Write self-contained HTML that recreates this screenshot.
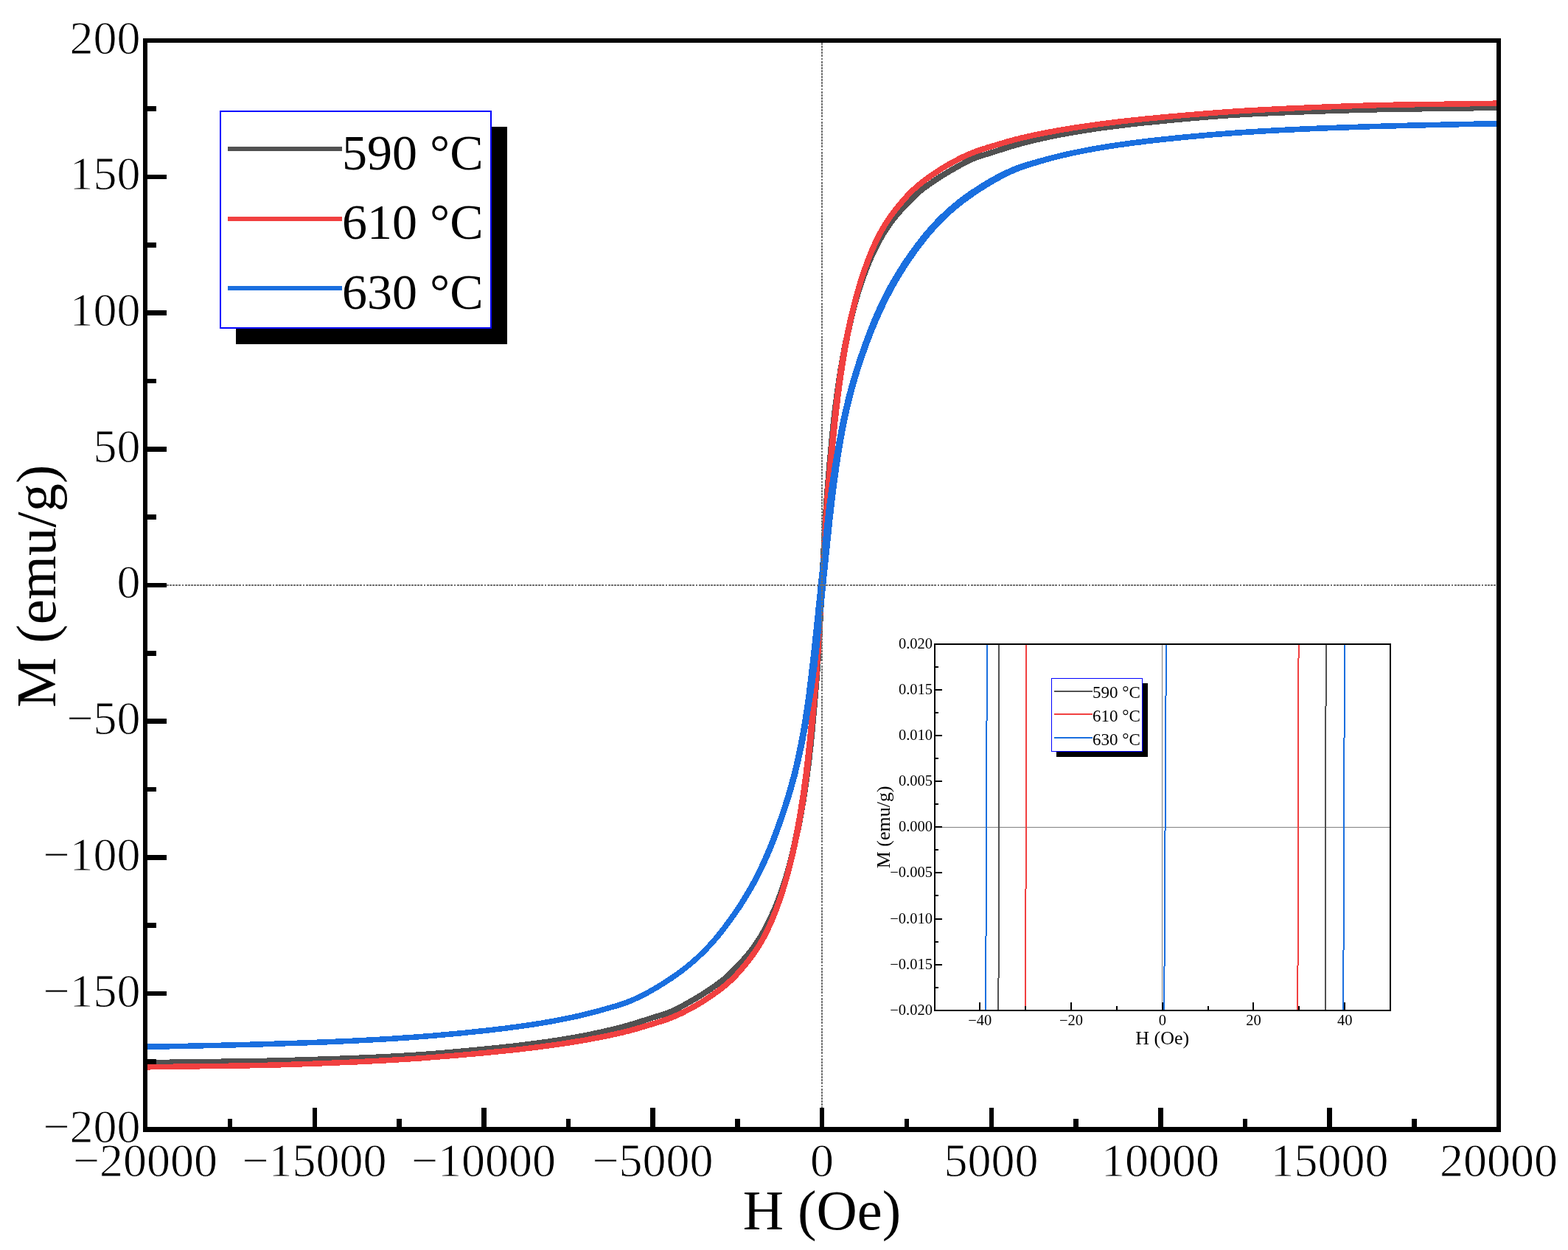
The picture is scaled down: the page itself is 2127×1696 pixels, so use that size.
<!DOCTYPE html>
<html lang="en"><head><meta charset="utf-8"><title>M-H hysteresis loops</title>
<style>html,body{margin:0;padding:0;background:#fff}svg{display:block}</style></head>
<body>
<svg xmlns="http://www.w3.org/2000/svg" width="2127" height="1696" viewBox="0 0 2127 1696" font-family="'Liberation Serif', 'Times New Roman', serif" fill="#000">
<rect width="2127" height="1696" fill="#fff"/>
<g fill="none" stroke-linejoin="round" stroke-linecap="butt" shape-rendering="crispEdges">
<path d="M196.3,1441.8 201.5,1441.7 206.8,1441.6 212.0,1441.5 217.2,1441.4 222.4,1441.4 227.6,1441.3 232.8,1441.2 237.9,1441.1 243.0,1441.0 248.2,1441.0 253.2,1440.9 258.3,1440.8 263.4,1440.7 268.4,1440.7 273.4,1440.6 278.4,1440.6 283.4,1440.5 288.4,1440.4 293.3,1440.4 298.3,1440.3 303.2,1440.2 308.1,1440.2 313.0,1440.1 317.8,1440.0 322.7,1440.0 327.5,1439.9 332.3,1439.8 337.1,1439.7 341.9,1439.6 346.7,1439.6 351.4,1439.5 356.1,1439.4 360.8,1439.3 365.5,1439.1 370.2,1439.0 374.9,1438.9 379.5,1438.8 384.1,1438.7 388.7,1438.5 393.3,1438.4 397.9,1438.3 402.5,1438.2 407.0,1438.0 411.5,1437.9 416.0,1437.8 420.5,1437.6 425.0,1437.5 429.4,1437.3 433.9,1437.2 438.3,1437.0 442.7,1436.9 447.1,1436.7 451.5,1436.6 455.8,1436.4 460.2,1436.3 464.5,1436.1 468.8,1436.0 473.1,1435.8 477.3,1435.6 481.6,1435.5 485.8,1435.3 490.1,1435.1 494.3,1434.9 498.5,1434.8 502.6,1434.6 506.8,1434.4 510.9,1434.2 515.0,1434.0 519.1,1433.8 523.2,1433.6 527.3,1433.4 531.4,1433.2 535.4,1433.0 539.4,1432.8 543.4,1432.6 547.4,1432.3 551.4,1432.1 555.4,1431.8 559.3,1431.6 563.2,1431.3 567.1,1431.1 571.0,1430.8 574.9,1430.5 578.8,1430.2 582.6,1429.9 586.4,1429.6 590.3,1429.3 594.1,1429.0 597.8,1428.7 601.6,1428.4 605.3,1428.1 609.1,1427.7 612.8,1427.4 616.5,1427.1 620.2,1426.8 623.9,1426.4 627.5,1426.1 631.1,1425.7 634.8,1425.4 638.4,1425.1 642.0,1424.7 645.5,1424.4 649.1,1424.1 652.6,1423.7 656.2,1423.4 659.7,1423.0 663.2,1422.7 666.6,1422.3 670.1,1422.0 673.6,1421.7 677.0,1421.3 680.4,1421.0 683.8,1420.6 687.2,1420.2 690.6,1419.9 693.9,1419.5 697.3,1419.1 700.6,1418.8 703.9,1418.4 707.2,1418.0 710.5,1417.6 713.7,1417.2 717.0,1416.8 720.2,1416.4 723.4,1416.0 726.6,1415.6 729.8,1415.1 733.0,1414.7 736.1,1414.3 739.3,1413.8 742.4,1413.4 745.5,1413.0 748.6,1412.5 751.7,1412.0 754.7,1411.6 757.8,1411.1 760.8,1410.6 763.8,1410.1 766.8,1409.6 769.8,1409.2 772.8,1408.7 775.7,1408.1 778.7,1407.6 781.6,1407.1 784.5,1406.6 787.4,1406.1 790.3,1405.5 793.2,1405.0 796.0,1404.4 798.9,1403.9 801.7,1403.3 804.5,1402.7 807.3,1402.2 810.1,1401.6 812.9,1401.0 815.6,1400.4 818.3,1399.8 821.1,1399.2 823.8,1398.5 826.5,1397.9 829.1,1397.3 831.8,1396.6 834.5,1396.0 837.1,1395.3 839.7,1394.7 842.3,1394.0 844.9,1393.3 847.5,1392.6 850.0,1391.9 852.6,1391.2 855.1,1390.5 857.6,1389.8 860.1,1389.0 862.6,1388.2 865.1,1387.5 867.6,1386.7 870.0,1385.9 872.5,1385.1 874.9,1384.3 877.3,1383.6 879.7,1382.8 882.1,1382.0 884.4,1381.2 886.8,1380.5 889.1,1379.8 891.4,1379.1 893.7,1378.4 896.0,1377.7 898.3,1377.0 900.6,1376.2 902.8,1375.5 905.1,1374.7 907.3,1373.9 909.5,1373.0 911.7,1372.1 913.9,1371.1 916.0,1370.1 918.2,1369.0 920.3,1368.0 922.5,1366.8 924.6,1365.7 926.7,1364.6 928.8,1363.4 930.9,1362.2 932.9,1361.1 935.0,1359.9 937.0,1358.8 939.0,1357.6 941.0,1356.5 943.0,1355.3 945.0,1354.1 947.0,1353.0 948.9,1351.8 950.9,1350.6 952.8,1349.4 954.7,1348.2 956.6,1346.9 958.5,1345.7 960.4,1344.5 962.2,1343.2 964.1,1342.0 965.9,1340.7 967.7,1339.4 969.5,1338.2 971.3,1336.9 973.0,1335.7 974.6,1334.6 976.1,1333.4 977.5,1332.4 978.9,1331.3 980.3,1330.2 981.6,1329.2 982.9,1328.1 984.2,1327.0 985.6,1325.8 986.9,1324.6 988.3,1323.3 989.7,1322.0 991.2,1320.6 992.7,1319.1 994.3,1317.5 995.9,1315.9 997.5,1314.2 999.1,1312.5 1000.7,1310.8 1002.4,1309.1 1004.0,1307.4 1005.6,1305.6 1007.3,1303.8 1008.9,1302.0 1010.5,1300.1 1012.1,1298.2 1013.8,1296.3 1015.3,1294.4 1016.9,1292.4 1018.5,1290.4 1020.1,1288.4 1021.6,1286.3 1023.1,1284.2 1024.6,1282.1 1026.1,1280.0 1027.6,1277.8 1029.0,1275.6 1030.4,1273.3 1031.8,1271.1 1033.2,1268.8 1034.5,1266.4 1035.9,1264.1 1037.2,1261.7 1038.5,1259.3 1039.8,1256.8 1041.1,1254.3 1042.4,1251.8 1043.6,1249.2 1044.9,1246.7 1046.1,1244.1 1047.3,1241.4 1048.5,1238.7 1049.7,1236.0 1050.9,1233.3 1052.1,1230.5 1053.2,1227.8 1054.3,1224.9 1055.5,1222.1 1056.6,1219.2 1057.7,1216.3 1058.7,1213.4 1059.8,1210.4 1060.9,1207.4 1061.9,1204.4 1062.9,1201.4 1063.9,1198.3 1064.9,1195.2 1065.9,1192.1 1066.9,1189.0 1067.8,1185.8 1068.7,1182.7 1069.7,1179.4 1070.6,1176.2 1071.5,1173.0 1072.3,1169.7 1073.2,1166.4 1074.1,1163.1 1074.9,1159.7 1075.7,1156.4 1076.6,1153.0 1077.4,1149.6 1078.2,1146.2 1079.0,1142.7 1079.7,1139.3 1080.5,1135.8 1081.3,1132.3 1082.0,1128.7 1082.8,1125.2 1083.5,1121.6 1084.2,1118.0 1084.9,1114.4 1085.6,1110.7 1086.3,1107.1 1087.0,1103.4 1087.6,1099.7 1088.3,1095.9 1088.9,1092.1 1089.6,1088.4 1090.2,1084.5 1090.8,1080.7 1091.4,1076.8 1092.0,1072.9 1092.6,1069.0 1093.2,1065.1 1093.7,1061.1 1094.3,1057.1 1094.8,1053.1 1095.4,1049.0 1095.9,1044.9 1096.4,1040.8 1097.0,1036.7 1097.5,1032.5 1098.0,1028.4 1098.4,1024.2 1098.9,1020.0 1099.4,1015.7 1099.9,1011.5 1100.3,1007.2 1100.7,1002.9 1101.2,998.6 1101.6,994.3 1102.0,990.0 1102.4,985.6 1102.8,981.3 1103.2,977.0 1103.6,972.6 1104.0,968.3 1104.4,964.0 1104.8,959.7 1105.1,955.4 1105.5,951.1 1105.9,946.8 1106.2,942.6 1106.6,938.3 1106.9,934.1 1107.3,929.9 1107.6,925.7 1108.0,921.6 1108.3,917.5 1108.6,913.4 1108.9,909.3 1109.2,905.3 1109.5,901.3 1109.7,897.3 1110.0,893.4 1110.3,889.4 1110.5,885.6 1110.7,881.7 1111.0,877.9 1111.2,874.2 1111.4,870.5 1111.6,866.8 1111.8,863.1 1112.0,859.6 1112.1,856.1 1112.3,852.6 1112.5,849.2 1112.6,845.9 1112.8,842.6 1112.9,839.4 1113.1,836.4 1113.2,833.4 1113.4,830.5 1113.5,827.7 1113.7,825.0 1113.9,822.4 1114.1,820.0 1114.3,817.6 1114.5,815.4 1114.6,813.3 1114.8,811.3 1115.0,809.4 1115.2,807.7 1115.3,806.1 1115.5,804.5 1115.6,803.1 1115.8,801.9 1115.9,800.7 1116.0,799.6 1116.1,798.7 1116.2,797.8 1116.3,797.1 1116.3,796.4 1116.4,795.9 1116.4,795.4 1116.5,795.0 1116.5,794.7 1116.5,794.5 1116.5,794.3 1116.5,794.2 1116.5,794.2 1116.5,794.2 1113.5,793.8 1113.5,793.8 1113.5,793.7 1113.5,793.5 1113.5,793.3 1113.5,793.0 1113.6,792.6 1113.6,792.1 1113.7,791.6 1113.7,790.9 1113.8,790.2 1113.9,789.3 1114.0,788.4 1114.1,787.3 1114.2,786.1 1114.4,784.9 1114.5,783.5 1114.7,781.9 1114.8,780.3 1115.0,778.6 1115.2,776.7 1115.4,774.7 1115.5,772.6 1115.7,770.4 1115.9,768.0 1116.1,765.6 1116.3,763.0 1116.5,760.3 1116.6,757.5 1116.8,754.6 1116.9,751.6 1117.1,748.6 1117.2,745.4 1117.4,742.1 1117.5,738.8 1117.7,735.4 1117.9,731.9 1118.0,728.4 1118.2,724.9 1118.4,721.2 1118.6,717.5 1118.8,713.8 1119.0,710.1 1119.3,706.3 1119.5,702.4 1119.7,698.6 1120.0,694.6 1120.3,690.7 1120.5,686.7 1120.8,682.7 1121.1,678.7 1121.4,674.6 1121.7,670.5 1122.0,666.4 1122.4,662.3 1122.7,658.1 1123.1,653.9 1123.4,649.7 1123.8,645.4 1124.1,641.2 1124.5,636.9 1124.9,632.6 1125.2,628.3 1125.6,624.0 1126.0,619.7 1126.4,615.4 1126.8,611.0 1127.2,606.7 1127.6,602.4 1128.0,598.0 1128.4,593.7 1128.8,589.4 1129.3,585.1 1129.7,580.8 1130.1,576.5 1130.6,572.3 1131.1,568.0 1131.6,563.8 1132.0,559.6 1132.5,555.5 1133.0,551.3 1133.6,547.2 1134.1,543.1 1134.6,539.0 1135.2,534.9 1135.7,530.9 1136.3,526.9 1136.8,522.9 1137.4,519.0 1138.0,515.1 1138.6,511.2 1139.2,507.3 1139.8,503.5 1140.4,499.6 1141.1,495.9 1141.7,492.1 1142.4,488.3 1143.0,484.6 1143.7,480.9 1144.4,477.3 1145.1,473.6 1145.8,470.0 1146.5,466.4 1147.2,462.8 1148.0,459.3 1148.7,455.7 1149.5,452.2 1150.3,448.7 1151.0,445.3 1151.8,441.8 1152.6,438.4 1153.4,435.0 1154.3,431.6 1155.1,428.3 1155.9,424.9 1156.8,421.6 1157.7,418.3 1158.5,415.0 1159.4,411.8 1160.3,408.6 1161.3,405.3 1162.2,402.2 1163.1,399.0 1164.1,395.9 1165.1,392.8 1166.1,389.7 1167.1,386.6 1168.1,383.6 1169.1,380.6 1170.2,377.6 1171.3,374.6 1172.3,371.7 1173.4,368.8 1174.5,365.9 1175.7,363.1 1176.8,360.2 1177.9,357.5 1179.1,354.7 1180.3,352.0 1181.5,349.3 1182.7,346.6 1183.9,343.9 1185.1,341.3 1186.4,338.8 1187.6,336.2 1188.9,333.7 1190.2,331.2 1191.5,328.7 1192.8,326.3 1194.1,323.9 1195.5,321.6 1196.8,319.2 1198.2,316.9 1199.6,314.7 1201.0,312.4 1202.4,310.2 1203.9,308.0 1205.4,305.9 1206.9,303.8 1208.4,301.7 1209.9,299.6 1211.5,297.6 1213.1,295.6 1214.7,293.6 1216.2,291.7 1217.9,289.8 1219.5,287.9 1221.1,286.0 1222.7,284.2 1224.4,282.4 1226.0,280.6 1227.6,278.9 1229.3,277.2 1230.9,275.5 1232.5,273.8 1234.1,272.1 1235.7,270.5 1237.3,268.9 1238.8,267.4 1240.3,266.0 1241.7,264.7 1243.1,263.4 1244.4,262.2 1245.8,261.0 1247.1,259.9 1248.4,258.8 1249.7,257.8 1251.1,256.7 1252.5,255.6 1253.9,254.6 1255.4,253.4 1257.0,252.3 1258.7,251.1 1260.5,249.8 1262.3,248.6 1264.1,247.3 1265.9,246.0 1267.8,244.8 1269.6,243.5 1271.5,242.3 1273.4,241.1 1275.3,239.8 1277.2,238.6 1279.1,237.4 1281.1,236.2 1283.0,235.0 1285.0,233.9 1287.0,232.7 1289.0,231.5 1291.0,230.4 1293.0,229.2 1295.0,228.1 1297.1,226.9 1299.1,225.8 1301.2,224.6 1303.3,223.4 1305.4,222.3 1307.5,221.2 1309.7,220.0 1311.8,219.0 1314.0,217.9 1316.1,216.9 1318.3,215.9 1320.5,215.0 1322.7,214.1 1324.9,213.3 1327.2,212.5 1329.4,211.8 1331.7,211.0 1334.0,210.3 1336.3,209.6 1338.6,208.9 1340.9,208.2 1343.2,207.5 1345.6,206.8 1347.9,206.0 1350.3,205.2 1352.7,204.4 1355.1,203.7 1357.5,202.9 1360.0,202.1 1362.4,201.3 1364.9,200.5 1367.4,199.8 1369.9,199.0 1372.4,198.2 1374.9,197.5 1377.4,196.8 1380.0,196.1 1382.5,195.4 1385.1,194.7 1387.7,194.0 1390.3,193.3 1392.9,192.7 1395.5,192.0 1398.2,191.4 1400.9,190.7 1403.5,190.1 1406.2,189.5 1408.9,188.8 1411.7,188.2 1414.4,187.6 1417.1,187.0 1419.9,186.4 1422.7,185.8 1425.5,185.3 1428.3,184.7 1431.1,184.1 1434.0,183.6 1436.8,183.0 1439.7,182.5 1442.6,181.9 1445.5,181.4 1448.4,180.9 1451.3,180.4 1454.3,179.9 1457.2,179.3 1460.2,178.8 1463.2,178.4 1466.2,177.9 1469.2,177.4 1472.2,176.9 1475.3,176.4 1478.3,176.0 1481.4,175.5 1484.5,175.0 1487.6,174.6 1490.7,174.2 1493.9,173.7 1497.0,173.3 1500.2,172.9 1503.4,172.4 1506.6,172.0 1509.8,171.6 1513.0,171.2 1516.3,170.8 1519.5,170.4 1522.8,170.0 1526.1,169.6 1529.4,169.2 1532.7,168.9 1536.1,168.5 1539.4,168.1 1542.8,167.8 1546.2,167.4 1549.6,167.0 1553.0,166.7 1556.4,166.3 1559.9,166.0 1563.4,165.7 1566.8,165.3 1570.3,165.0 1573.8,164.6 1577.4,164.3 1580.9,163.9 1584.5,163.6 1588.0,163.3 1591.6,162.9 1595.2,162.6 1598.9,162.3 1602.5,161.9 1606.1,161.6 1609.8,161.2 1613.5,160.9 1617.2,160.6 1620.9,160.3 1624.7,159.9 1628.4,159.6 1632.2,159.3 1635.9,159.0 1639.7,158.7 1643.6,158.4 1647.4,158.1 1651.2,157.8 1655.1,157.5 1659.0,157.2 1662.9,156.9 1666.8,156.7 1670.7,156.4 1674.6,156.2 1678.6,155.9 1682.6,155.7 1686.6,155.4 1690.6,155.2 1694.6,155.0 1698.6,154.8 1702.7,154.6 1706.8,154.4 1710.9,154.2 1715.0,154.0 1719.1,153.8 1723.2,153.6 1727.4,153.4 1731.5,153.2 1735.7,153.1 1739.9,152.9 1744.2,152.7 1748.4,152.5 1752.7,152.4 1756.9,152.2 1761.2,152.0 1765.5,151.9 1769.8,151.7 1774.2,151.6 1778.5,151.4 1782.9,151.3 1787.3,151.1 1791.7,151.0 1796.1,150.8 1800.6,150.7 1805.0,150.5 1809.5,150.4 1814.0,150.2 1818.5,150.1 1823.0,150.0 1827.5,149.8 1832.1,149.7 1836.7,149.6 1841.3,149.5 1845.9,149.3 1850.5,149.2 1855.1,149.1 1859.8,149.0 1864.5,148.9 1869.2,148.7 1873.9,148.6 1878.6,148.5 1883.3,148.4 1888.1,148.4 1892.9,148.3 1897.7,148.2 1902.5,148.1 1907.3,148.0 1912.2,148.0 1917.0,147.9 1921.9,147.8 1926.8,147.8 1931.7,147.7 1936.7,147.6 1941.6,147.6 1946.6,147.5 1951.6,147.4 1956.6,147.4 1961.6,147.3 1966.6,147.3 1971.7,147.2 1976.8,147.1 1981.8,147.0 1987.0,147.0 1992.1,146.9 1997.2,146.8 2002.4,146.7 2007.6,146.6 2012.8,146.6 2018.0,146.5 2023.2,146.4 2028.5,146.3 2033.7,146.2 M687.2,1420.2 690.6,1419.8 693.9,1419.5 697.2,1419.1 700.6,1418.7 703.9,1418.3 707.2,1417.9 710.4,1417.5 713.7,1417.1 717.0,1416.7 720.2,1416.3 723.4,1415.9 726.6,1415.5 729.8,1415.1 733.0,1414.6 736.1,1414.2 739.2,1413.8 742.4,1413.3 745.5,1412.9 748.6,1412.4 751.6,1411.9 754.7,1411.5 757.8,1411.0 760.8,1410.5 763.8,1410.0 766.8,1409.5 769.8,1409.0 772.8,1408.5 775.7,1408.0 778.7,1407.5 781.6,1407.0 784.5,1406.4 787.4,1405.9 790.3,1405.4 793.2,1404.8 796.0,1404.3 798.8,1403.7 801.7,1403.1 804.5,1402.5 807.3,1402.0 810.0,1401.4 812.8,1400.8 815.6,1400.2 818.3,1399.6 821.0,1398.9 823.7,1398.3 826.4,1397.7 829.1,1397.1 831.7,1396.4 834.4,1395.8 837.0,1395.1 839.6,1394.4 842.2,1393.7 844.8,1393.1 847.4,1392.4 850.0,1391.7 852.5,1391.0 855.0,1390.2 857.6,1389.5 860.1,1388.7 862.6,1388.0 865.0,1387.2 867.5,1386.4 869.9,1385.6 872.4,1384.8 874.8,1384.1 877.2,1383.3 879.6,1382.5 882.0,1381.7 884.3,1381.0 886.7,1380.2 889.0,1379.5 891.3,1378.8 893.6,1378.1 895.9,1377.4 898.2,1376.7 900.5,1375.9 902.7,1375.2 904.9,1374.4 907.2,1373.6 909.4,1372.7 911.6,1371.8 913.7,1370.8 915.9,1369.8 918.1,1368.7 920.2,1367.7 922.3,1366.6 924.4,1365.4 926.5,1364.3 928.6,1363.1 930.7,1362.0 932.8,1360.8 934.8,1359.6 936.8,1358.5 938.8,1357.3 940.9,1356.2 942.8,1355.0 944.8,1353.9 946.8,1352.7 948.7,1351.5 950.7,1350.3 952.6,1349.1 954.5,1347.9 956.4,1346.6 958.3,1345.4 960.2,1344.2 962.0,1342.9 963.9,1341.7 965.7,1340.4 967.5,1339.1 969.3,1337.9 971.1,1336.6 972.8,1335.4 974.3,1334.3 975.8,1333.2 977.3,1332.1 978.7,1331.0 980.0,1330.0 981.4,1328.9 982.7,1327.8 984.0,1326.7 985.3,1325.5 986.7,1324.3 988.0,1323.1 989.4,1321.7 990.9,1320.3 992.4,1318.8 994.0,1317.2 995.6,1315.6 997.2,1314.0 998.8,1312.3 1000.5,1310.6 1002.1,1308.9 1003.7,1307.1 1005.4,1305.3 1007.0,1303.5 1008.6,1301.7 1010.2,1299.9 1011.9,1298.0 1013.5,1296.1 1015.1,1294.1 1016.6,1292.2 1018.2,1290.2 1019.8,1288.1 1021.3,1286.1 1022.8,1284.0 1024.3,1281.9 1025.8,1279.8 1027.2,1277.6 1028.7,1275.4 1030.1,1273.1 1031.5,1270.9 1032.8,1268.6 1034.2,1266.2 1035.5,1263.9 1036.8,1261.5 1038.1,1259.1 1039.4,1256.6 1040.7,1254.1 1042.0,1251.6 1043.2,1249.1 1044.5,1246.5 1045.7,1243.9 1046.9,1241.2 1048.1,1238.6 1049.3,1235.9 1050.5,1233.1 1051.7,1230.4 1052.8,1227.6 1053.9,1224.8 1055.0,1221.9 1056.2,1219.1 1057.2,1216.2 1058.3,1213.2 1059.4,1210.3 1060.4,1207.3 1061.5,1204.3 1062.5,1201.2 1063.5,1198.2 1064.5,1195.1 1065.4,1192.0 1066.4,1188.9 1067.3,1185.7 1068.2,1182.5 1069.1,1179.3 1070.0,1176.1 1070.9,1172.8 1071.8,1169.5 1072.6,1166.2 1073.4,1162.9 1074.2,1159.6 1075.0,1156.2 1075.8,1152.8 1076.6,1149.4 1077.3,1146.0 1078.1,1142.5 1078.8,1139.1 1079.5,1135.6 1080.2,1132.1 1080.9,1128.5 1081.6,1125.0 1082.3,1121.4 1083.0,1117.8 1083.7,1114.2 1084.3,1110.5 1085.0,1106.8 1085.6,1103.1 1086.3,1099.4 1086.9,1095.7 1087.5,1091.9 1088.2,1088.1 1088.8,1084.3 1089.4,1080.5 1090.0,1076.6 1090.6,1072.7 1091.2,1068.8 1091.8,1064.9 1092.3,1060.9 1092.9,1056.9 1093.5,1052.9 1094.0,1048.8 1094.5,1044.7 1095.1,1040.6 1095.6,1036.5 1096.1,1032.4 1096.6,1028.2 1097.1,1024.0 1097.5,1019.8 1098.0,1015.6 1098.5,1011.3 1098.9,1007.0 1099.4,1002.8 1099.8,998.5 1100.2,994.2 1100.6,989.8 1101.0,985.5 1101.4,981.2 1101.8,976.9 1102.1,972.5 1102.5,968.2 1102.8,963.9 1103.1,959.6 1103.4,955.2 1103.6,951.0 1103.9,946.7 1104.1,942.4 1104.4,938.2 1104.6,933.9 1104.9,929.7 1105.1,925.6 1105.3,921.4 1105.6,917.3 1105.8,913.2 1106.0,909.1 1106.3,905.1 1106.5,901.1 1106.7,897.1 1106.9,893.2 1107.2,889.3 1107.4,885.4 1107.6,881.6 1107.9,877.8 1108.1,874.0 1108.3,870.3 1108.5,866.6 1108.7,863.0 1108.9,859.4 1109.0,855.9 1109.2,852.4 1109.4,849.0 1109.5,845.7 1109.7,842.5 1109.8,839.3 1110.0,836.2 1110.1,833.2 1110.3,830.3 1110.4,827.5 1110.6,824.8 1110.8,822.2 1111.0,819.7 1111.2,817.4 1111.4,815.1 1111.6,813.0 1111.7,811.0 1111.9,809.1 1112.1,807.4 1112.3,805.7 1112.4,804.2 1112.6,802.8 1112.7,801.5 1112.8,800.4 1112.9,799.3 1113.0,798.4 1113.1,797.5 1113.2,796.8 1113.2,796.1 1113.3,795.6 1113.3,795.1 1113.4,794.7 1113.4,794.4 1113.4,794.2 1113.4,794.0 1113.5,793.9 1113.5,793.9 1113.5,793.8 1116.5,794.1 1116.5,794.1 1116.6,794.0 1116.6,793.8 1116.6,793.6 1116.6,793.3 1116.7,792.9 1116.7,792.4 1116.8,791.9 1116.8,791.2 1116.9,790.5 1117.0,789.6 1117.1,788.7 1117.2,787.6 1117.3,786.5 1117.4,785.2 1117.6,783.8 1117.7,782.3 1117.9,780.6 1118.1,778.9 1118.3,777.0 1118.4,775.0 1118.6,772.9 1118.8,770.6 1119.0,768.3 1119.2,765.8 1119.4,763.2 1119.6,760.5 1119.7,757.7 1119.9,754.8 1120.0,751.8 1120.2,748.7 1120.3,745.5 1120.5,742.3 1120.6,739.0 1120.8,735.6 1121.0,732.1 1121.1,728.6 1121.3,725.0 1121.5,721.4 1121.7,717.7 1121.9,714.0 1122.1,710.2 1122.4,706.4 1122.6,702.6 1122.8,698.7 1123.1,694.8 1123.3,690.9 1123.5,686.9 1123.7,682.9 1124.0,678.9 1124.2,674.8 1124.4,670.7 1124.7,666.6 1124.9,662.4 1125.1,658.3 1125.4,654.1 1125.6,649.8 1125.9,645.6 1126.1,641.3 1126.4,637.0 1126.6,632.8 1126.9,628.4 1127.2,624.1 1127.5,619.8 1127.9,615.5 1128.2,611.1 1128.6,606.8 1129.0,602.5 1129.4,598.2 1129.8,593.8 1130.2,589.5 1130.6,585.2 1131.1,581.0 1131.5,576.7 1132.0,572.4 1132.5,568.2 1132.9,564.0 1133.4,559.8 1133.9,555.6 1134.4,551.5 1134.9,547.4 1135.5,543.3 1136.0,539.2 1136.5,535.1 1137.1,531.1 1137.7,527.1 1138.2,523.1 1138.8,519.2 1139.4,515.3 1140.0,511.4 1140.6,507.5 1141.2,503.7 1141.8,499.9 1142.5,496.1 1143.1,492.3 1143.7,488.6 1144.4,484.9 1145.0,481.2 1145.7,477.5 1146.3,473.8 1147.0,470.2 1147.7,466.6 1148.4,463.0 1149.1,459.5 1149.8,455.9 1150.5,452.4 1151.2,448.9 1151.9,445.5 1152.7,442.0 1153.4,438.6 1154.2,435.2 1155.0,431.8 1155.8,428.4 1156.6,425.1 1157.4,421.8 1158.2,418.5 1159.1,415.2 1160.0,411.9 1160.9,408.7 1161.8,405.5 1162.7,402.3 1163.6,399.1 1164.6,396.0 1165.5,392.9 1166.5,389.8 1167.5,386.8 1168.5,383.7 1169.6,380.7 1170.6,377.7 1171.7,374.8 1172.8,371.8 1173.8,368.9 1175.0,366.1 1176.1,363.2 1177.2,360.4 1178.3,357.6 1179.5,354.9 1180.7,352.1 1181.9,349.4 1183.1,346.8 1184.3,344.1 1185.5,341.5 1186.8,338.9 1188.0,336.4 1189.3,333.9 1190.6,331.4 1191.9,328.9 1193.2,326.5 1194.5,324.1 1195.8,321.8 1197.2,319.4 1198.5,317.1 1199.9,314.9 1201.3,312.6 1202.8,310.4 1204.2,308.2 1205.7,306.1 1207.2,304.0 1208.7,301.9 1210.2,299.9 1211.8,297.8 1213.4,295.8 1214.9,293.9 1216.5,291.9 1218.1,290.0 1219.8,288.1 1221.4,286.3 1223.0,284.5 1224.6,282.7 1226.3,280.9 1227.9,279.1 1229.5,277.4 1231.2,275.7 1232.8,274.0 1234.4,272.4 1236.0,270.8 1237.6,269.2 1239.1,267.7 1240.6,266.3 1242.0,264.9 1243.3,263.7 1244.7,262.5 1246.0,261.3 1247.3,260.2 1248.6,259.1 1250.0,258.0 1251.3,257.0 1252.7,255.9 1254.2,254.8 1255.7,253.7 1257.2,252.6 1258.9,251.4 1260.7,250.1 1262.5,248.9 1264.3,247.6 1266.1,246.3 1268.0,245.1 1269.8,243.8 1271.7,242.6 1273.6,241.4 1275.5,240.1 1277.4,238.9 1279.3,237.7 1281.3,236.5 1283.2,235.3 1285.2,234.1 1287.2,233.0 1289.1,231.8 1291.2,230.7 1293.2,229.5 1295.2,228.4 1297.2,227.2 1299.3,226.0 1301.4,224.9 1303.5,223.7 1305.6,222.6 1307.7,221.4 1309.8,220.3 1311.9,219.3 1314.1,218.2 1316.3,217.2 1318.4,216.2 1320.6,215.3 1322.8,214.4 1325.1,213.6 1327.3,212.8 1329.5,212.1 1331.8,211.3 1334.1,210.6 1336.4,209.9 1338.7,209.2 1341.0,208.5 1343.3,207.8 1345.7,207.0 1348.0,206.3 1350.4,205.5 1352.8,204.7 1355.2,203.9 1357.6,203.2 1360.1,202.4 1362.5,201.6 1365.0,200.8 1367.4,200.0 1369.9,199.3 1372.4,198.5 1375.0,197.8 1377.5,197.0 1380.0,196.3 1382.6,195.6 1385.2,194.9 1387.8,194.3 1390.4,193.6 1393.0,192.9 1395.6,192.2 1398.3,191.6 1400.9,190.9 1403.6,190.3 1406.3,189.7 1409.0,189.1 1411.7,188.4 1414.4,187.8 1417.2,187.2 1420.0,186.6 1422.7,186.0 1425.5,185.5 1428.3,184.9 1431.2,184.3 1434.0,183.7 1436.8,183.2 1439.7,182.6 1442.6,182.1 1445.5,181.6 1448.4,181.0 1451.3,180.5 1454.3,180.0 1457.2,179.5 1460.2,179.0 1463.2,178.5 1466.2,178.0 1469.2,177.5 1472.2,177.0 1475.3,176.5 1478.4,176.1 1481.4,175.6 1484.5,175.1 1487.6,174.7 1490.8,174.2 1493.9,173.8 1497.0,173.4 1500.2,172.9 1503.4,172.5 1506.6,172.1 1509.8,171.7 1513.0,171.3 1516.3,170.9 1519.6,170.5 1522.8,170.1 1526.1,169.7 1529.4,169.3 1532.8,168.9 1536.1,168.5 1539.4,168.2 1542.8,167.8" stroke="#515151" stroke-width="7.5"/>
<path d="M196.3,1447.9 201.5,1447.8 206.8,1447.7 212.0,1447.6 217.2,1447.6 222.4,1447.5 227.6,1447.4 232.8,1447.3 237.9,1447.2 243.0,1447.1 248.2,1447.1 253.2,1447.0 258.3,1446.9 263.4,1446.9 268.4,1446.8 273.4,1446.7 278.4,1446.7 283.4,1446.6 288.4,1446.6 293.3,1446.5 298.3,1446.4 303.2,1446.4 308.1,1446.3 313.0,1446.2 317.8,1446.2 322.7,1446.1 327.5,1446.0 332.3,1445.9 337.1,1445.8 341.9,1445.7 346.7,1445.6 351.4,1445.5 356.1,1445.4 360.8,1445.3 365.5,1445.2 370.2,1445.1 374.9,1444.9 379.5,1444.8 384.1,1444.6 388.7,1444.5 393.3,1444.3 397.9,1444.2 402.5,1444.0 407.0,1443.9 411.5,1443.7 416.0,1443.6 420.5,1443.4 425.0,1443.2 429.4,1443.1 433.9,1442.9 438.3,1442.7 442.7,1442.6 447.1,1442.4 451.5,1442.2 455.8,1442.0 460.2,1441.8 464.5,1441.6 468.8,1441.5 473.1,1441.3 477.3,1441.1 481.6,1440.9 485.8,1440.7 490.1,1440.5 494.3,1440.3 498.5,1440.1 502.6,1439.9 506.8,1439.6 510.9,1439.4 515.0,1439.2 519.1,1439.0 523.2,1438.8 527.3,1438.5 531.4,1438.3 535.4,1438.1 539.4,1437.9 543.4,1437.6 547.4,1437.4 551.4,1437.1 555.4,1436.9 559.3,1436.6 563.2,1436.3 567.1,1436.0 571.0,1435.8 574.9,1435.5 578.8,1435.2 582.6,1434.9 586.4,1434.6 590.3,1434.3 594.1,1434.0 597.8,1433.7 601.6,1433.4 605.3,1433.1 609.1,1432.8 612.8,1432.5 616.5,1432.2 620.2,1431.9 623.9,1431.6 627.5,1431.3 631.1,1430.9 634.8,1430.6 638.4,1430.3 642.0,1430.0 645.5,1429.7 649.1,1429.3 652.6,1429.0 656.2,1428.7 659.7,1428.3 663.2,1428.0 666.6,1427.7 670.1,1427.3 673.6,1427.0 677.0,1426.7 680.4,1426.3 683.8,1426.0 687.2,1425.6 690.6,1425.3 693.9,1424.9 697.2,1424.6 700.6,1424.2 703.9,1423.8 707.2,1423.5 710.4,1423.1 713.7,1422.7 717.0,1422.3 720.2,1421.9 723.4,1421.5 726.6,1421.1 729.8,1420.7 733.0,1420.3 736.1,1419.9 739.3,1419.5 742.4,1419.1 745.5,1418.7 748.6,1418.2 751.7,1417.8 754.7,1417.4 757.8,1416.9 760.8,1416.5 763.8,1416.0 766.8,1415.6 769.8,1415.1 772.8,1414.7 775.7,1414.2 778.7,1413.7 781.6,1413.2 784.5,1412.8 787.4,1412.3 790.3,1411.8 793.2,1411.3 796.0,1410.8 798.9,1410.3 801.7,1409.8 804.5,1409.3 807.3,1408.7 810.1,1408.2 812.8,1407.7 815.6,1407.1 818.3,1406.6 821.1,1406.0 823.8,1405.5 826.5,1404.9 829.1,1404.3 831.8,1403.8 834.4,1403.2 837.1,1402.6 839.7,1402.0 842.3,1401.4 844.9,1400.8 847.5,1400.1 850.0,1399.5 852.6,1398.9 855.1,1398.2 857.6,1397.5 860.1,1396.9 862.6,1396.2 865.1,1395.5 867.6,1394.8 870.0,1394.0 872.5,1393.3 874.9,1392.6 877.3,1391.9 879.7,1391.1 882.0,1390.4 884.4,1389.7 886.8,1389.0 889.1,1388.3 891.4,1387.6 893.7,1386.8 896.0,1386.1 898.3,1385.4 900.6,1384.6 902.8,1383.9 905.1,1383.1 907.3,1382.2 909.5,1381.4 911.7,1380.5 913.9,1379.6 916.0,1378.7 918.2,1377.8 920.3,1376.8 922.5,1375.8 924.6,1374.8 926.7,1373.7 928.8,1372.7 930.8,1371.6 932.9,1370.5 935.0,1369.5 937.0,1368.4 939.0,1367.3 941.0,1366.2 943.0,1365.1 945.0,1363.9 947.0,1362.8 948.9,1361.6 950.8,1360.4 952.8,1359.3 954.7,1358.1 956.6,1356.8 958.5,1355.6 960.3,1354.4 962.2,1353.1 964.1,1351.9 965.9,1350.6 967.7,1349.3 969.5,1348.0 971.3,1346.8 973.1,1345.5 974.8,1344.2 976.5,1343.0 978.1,1341.7 979.7,1340.4 981.3,1339.1 982.9,1337.9 984.5,1336.6 986.1,1335.2 987.6,1333.9 989.1,1332.5 990.6,1331.1 992.2,1329.7 993.7,1328.2 995.2,1326.7 996.7,1325.2 998.2,1323.6 999.7,1322.0 1001.2,1320.4 1002.8,1318.6 1004.3,1316.9 1005.8,1315.1 1007.4,1313.3 1008.9,1311.5 1010.5,1309.6 1012.0,1307.7 1013.6,1305.8 1015.1,1303.9 1016.6,1301.9 1018.2,1299.9 1019.7,1297.9 1021.2,1295.8 1022.7,1293.7 1024.1,1291.6 1025.6,1289.5 1027.0,1287.3 1028.4,1285.1 1029.8,1282.9 1031.2,1280.6 1032.6,1278.3 1033.9,1276.0 1035.2,1273.6 1036.5,1271.2 1037.8,1268.8 1039.0,1266.4 1040.3,1263.9 1041.5,1261.4 1042.7,1258.8 1043.9,1256.2 1045.0,1253.6 1046.2,1250.9 1047.4,1248.3 1048.5,1245.5 1049.7,1242.8 1050.8,1240.0 1051.9,1237.2 1053.0,1234.3 1054.1,1231.4 1055.2,1228.5 1056.2,1225.5 1057.3,1222.5 1058.3,1219.5 1059.4,1216.4 1060.4,1213.3 1061.4,1210.2 1062.4,1207.0 1063.4,1203.8 1064.4,1200.5 1065.4,1197.2 1066.3,1193.9 1067.3,1190.6 1068.2,1187.2 1069.1,1183.8 1070.1,1180.3 1071.0,1176.8 1071.9,1173.3 1072.8,1169.8 1073.6,1166.2 1074.5,1162.6 1075.4,1158.9 1076.2,1155.3 1077.1,1151.6 1077.9,1147.8 1078.7,1144.1 1079.5,1140.3 1080.3,1136.5 1081.1,1132.6 1081.9,1128.8 1082.7,1124.9 1083.4,1121.0 1084.2,1117.0 1084.9,1113.1 1085.6,1109.1 1086.3,1105.1 1087.0,1101.0 1087.7,1097.0 1088.4,1092.9 1089.0,1088.9 1089.7,1084.8 1090.3,1080.6 1090.9,1076.5 1091.5,1072.3 1092.1,1068.2 1092.6,1064.0 1093.2,1059.8 1093.8,1055.6 1094.3,1051.4 1094.8,1047.1 1095.3,1042.9 1095.8,1038.6 1096.3,1034.3 1096.8,1030.1 1097.3,1025.7 1097.8,1021.4 1098.3,1017.1 1098.7,1012.8 1099.2,1008.4 1099.6,1004.0 1100.1,999.7 1100.5,995.3 1100.9,990.9 1101.4,986.4 1101.8,982.0 1102.2,977.6 1102.6,973.1 1103.0,968.7 1103.5,964.2 1103.9,959.7 1104.3,955.3 1104.7,950.8 1105.1,946.3 1105.5,941.8 1105.9,937.4 1106.3,932.9 1106.7,928.4 1107.0,924.0 1107.4,919.6 1107.8,915.2 1108.1,910.8 1108.4,906.5 1108.7,902.2 1109.0,897.9 1109.3,893.7 1109.6,889.5 1109.9,885.4 1110.1,881.3 1110.4,877.3 1110.6,873.4 1110.8,869.6 1111.0,865.8 1111.3,862.1 1111.5,858.5 1111.7,855.0 1111.9,851.6 1112.1,848.2 1112.2,845.0 1112.4,841.9 1112.6,838.8 1112.7,835.9 1112.9,833.1 1113.0,830.3 1113.2,827.7 1113.3,825.2 1113.5,822.8 1113.7,820.6 1113.9,818.4 1114.1,816.3 1114.2,814.3 1114.4,812.4 1114.6,810.7 1114.8,809.0 1114.9,807.5 1115.1,806.0 1115.2,804.6 1115.4,803.3 1115.5,802.2 1115.6,801.1 1115.7,800.1 1115.8,799.2 1115.9,798.4 1116.0,797.6 1116.1,797.0 1116.1,796.4 1116.2,795.9 1116.2,795.5 1116.3,795.1 1116.3,794.8 1116.3,794.6 1116.4,794.4 1116.4,794.3 1116.4,794.2 1116.4,794.2 1116.4,794.2 1113.6,793.8 1113.6,793.8 1113.6,793.7 1113.6,793.6 1113.7,793.4 1113.7,793.2 1113.7,792.9 1113.8,792.5 1113.8,792.1 1113.9,791.6 1113.9,791.0 1114.0,790.4 1114.1,789.6 1114.2,788.8 1114.3,787.9 1114.4,786.9 1114.5,785.8 1114.6,784.7 1114.8,783.4 1114.9,782.0 1115.1,780.5 1115.2,779.0 1115.4,777.3 1115.6,775.6 1115.8,773.7 1115.9,771.7 1116.1,769.6 1116.3,767.4 1116.5,765.2 1116.7,762.8 1116.8,760.3 1117.0,757.7 1117.1,754.9 1117.3,752.1 1117.4,749.2 1117.6,746.1 1117.8,743.0 1117.9,739.8 1118.1,736.4 1118.3,733.0 1118.5,729.5 1118.7,725.9 1119.0,722.2 1119.2,718.4 1119.4,714.6 1119.6,710.7 1119.9,706.7 1120.1,702.6 1120.4,698.5 1120.7,694.3 1121.0,690.1 1121.3,685.8 1121.6,681.5 1121.9,677.2 1122.2,672.8 1122.6,668.4 1123.0,664.0 1123.3,659.6 1123.7,655.1 1124.1,650.6 1124.5,646.2 1124.9,641.7 1125.3,637.2 1125.7,632.7 1126.1,628.3 1126.5,623.8 1127.0,619.3 1127.4,614.9 1127.8,610.4 1128.2,606.0 1128.6,601.6 1129.1,597.1 1129.5,592.7 1129.9,588.3 1130.4,584.0 1130.8,579.6 1131.3,575.2 1131.7,570.9 1132.2,566.6 1132.7,562.3 1133.2,557.9 1133.7,553.7 1134.2,549.4 1134.7,545.1 1135.2,540.9 1135.7,536.6 1136.2,532.4 1136.8,528.2 1137.4,524.0 1137.9,519.8 1138.5,515.7 1139.1,511.5 1139.7,507.4 1140.3,503.2 1141.0,499.1 1141.6,495.1 1142.3,491.0 1143.0,487.0 1143.7,482.9 1144.4,478.9 1145.1,474.9 1145.8,471.0 1146.6,467.0 1147.3,463.1 1148.1,459.2 1148.9,455.4 1149.7,451.5 1150.5,447.7 1151.3,443.9 1152.1,440.2 1152.9,436.4 1153.8,432.7 1154.6,429.1 1155.5,425.4 1156.4,421.8 1157.2,418.2 1158.1,414.7 1159.0,411.2 1159.9,407.7 1160.9,404.2 1161.8,400.8 1162.7,397.4 1163.7,394.1 1164.6,390.8 1165.6,387.5 1166.6,384.2 1167.6,381.0 1168.6,377.8 1169.6,374.7 1170.6,371.6 1171.7,368.5 1172.7,365.5 1173.8,362.5 1174.8,359.5 1175.9,356.6 1177.0,353.7 1178.1,350.8 1179.2,348.0 1180.3,345.2 1181.5,342.5 1182.6,339.7 1183.8,337.1 1185.0,334.4 1186.1,331.8 1187.3,329.2 1188.5,326.6 1189.7,324.1 1191.0,321.6 1192.2,319.2 1193.5,316.8 1194.8,314.4 1196.1,312.0 1197.4,309.7 1198.8,307.4 1200.2,305.1 1201.6,302.9 1203.0,300.7 1204.4,298.5 1205.9,296.4 1207.3,294.3 1208.8,292.2 1210.3,290.1 1211.8,288.1 1213.4,286.1 1214.9,284.1 1216.4,282.2 1218.0,280.3 1219.5,278.4 1221.1,276.5 1222.6,274.7 1224.2,272.9 1225.7,271.1 1227.2,269.4 1228.8,267.6 1230.3,266.0 1231.8,264.4 1233.3,262.8 1234.8,261.3 1236.3,259.8 1237.8,258.3 1239.4,256.9 1240.9,255.5 1242.4,254.1 1243.9,252.8 1245.5,251.4 1247.1,250.1 1248.7,248.9 1250.3,247.6 1251.9,246.3 1253.5,245.0 1255.2,243.8 1256.9,242.5 1258.7,241.2 1260.5,240.0 1262.3,238.7 1264.1,237.4 1265.9,236.1 1267.8,234.9 1269.7,233.6 1271.5,232.4 1273.4,231.2 1275.3,229.9 1277.2,228.7 1279.2,227.6 1281.1,226.4 1283.0,225.2 1285.0,224.1 1287.0,222.9 1289.0,221.8 1291.0,220.7 1293.0,219.6 1295.0,218.5 1297.1,217.5 1299.2,216.4 1301.2,215.3 1303.3,214.3 1305.4,213.2 1307.5,212.2 1309.7,211.2 1311.8,210.2 1314.0,209.3 1316.1,208.4 1318.3,207.5 1320.5,206.6 1322.7,205.8 1324.9,204.9 1327.2,204.1 1329.4,203.4 1331.7,202.6 1334.0,201.9 1336.3,201.2 1338.6,200.4 1340.9,199.7 1343.2,199.0 1345.6,198.3 1348.0,197.6 1350.3,196.9 1352.7,196.1 1355.1,195.4 1357.5,194.7 1360.0,194.0 1362.4,193.2 1364.9,192.5 1367.4,191.8 1369.9,191.1 1372.4,190.5 1374.9,189.8 1377.4,189.1 1380.0,188.5 1382.5,187.9 1385.1,187.2 1387.7,186.6 1390.3,186.0 1392.9,185.4 1395.6,184.8 1398.2,184.2 1400.9,183.7 1403.5,183.1 1406.2,182.5 1408.9,182.0 1411.7,181.4 1414.4,180.9 1417.2,180.3 1419.9,179.8 1422.7,179.3 1425.5,178.7 1428.3,178.2 1431.1,177.7 1434.0,177.2 1436.8,176.7 1439.7,176.2 1442.6,175.7 1445.5,175.2 1448.4,174.8 1451.3,174.3 1454.3,173.8 1457.2,173.3 1460.2,172.9 1463.2,172.4 1466.2,172.0 1469.2,171.5 1472.2,171.1 1475.3,170.6 1478.3,170.2 1481.4,169.8 1484.5,169.3 1487.6,168.9 1490.7,168.5 1493.9,168.1 1497.0,167.7 1500.2,167.3 1503.4,166.9 1506.6,166.5 1509.8,166.1 1513.0,165.7 1516.3,165.3 1519.6,164.9 1522.8,164.5 1526.1,164.2 1529.4,163.8 1532.8,163.4 1536.1,163.1 1539.4,162.7 1542.8,162.4 1546.2,162.0 1549.6,161.7 1553.0,161.3 1556.4,161.0 1559.9,160.7 1563.4,160.3 1566.8,160.0 1570.3,159.7 1573.8,159.3 1577.4,159.0 1580.9,158.7 1584.5,158.3 1588.0,158.0 1591.6,157.7 1595.2,157.4 1598.9,157.1 1602.5,156.7 1606.1,156.4 1609.8,156.1 1613.5,155.8 1617.2,155.5 1620.9,155.2 1624.7,154.9 1628.4,154.6 1632.2,154.3 1635.9,154.0 1639.7,153.7 1643.6,153.4 1647.4,153.1 1651.2,152.8 1655.1,152.5 1659.0,152.2 1662.9,152.0 1666.8,151.7 1670.7,151.4 1674.6,151.1 1678.6,150.9 1682.6,150.6 1686.6,150.4 1690.6,150.1 1694.6,149.9 1698.6,149.7 1702.7,149.5 1706.8,149.2 1710.9,149.0 1715.0,148.8 1719.1,148.6 1723.2,148.4 1727.4,148.1 1731.5,147.9 1735.7,147.7 1739.9,147.5 1744.2,147.3 1748.4,147.1 1752.7,146.9 1756.9,146.7 1761.2,146.5 1765.5,146.4 1769.8,146.2 1774.2,146.0 1778.5,145.8 1782.9,145.6 1787.3,145.4 1791.7,145.3 1796.1,145.1 1800.6,144.9 1805.0,144.8 1809.5,144.6 1814.0,144.4 1818.5,144.3 1823.0,144.1 1827.5,144.0 1832.1,143.8 1836.7,143.7 1841.3,143.5 1845.9,143.4 1850.5,143.2 1855.1,143.1 1859.8,142.9 1864.5,142.8 1869.2,142.7 1873.9,142.6 1878.6,142.5 1883.3,142.4 1888.1,142.3 1892.9,142.2 1897.7,142.1 1902.5,142.0 1907.3,141.9 1912.2,141.8 1917.0,141.8 1921.9,141.7 1926.8,141.6 1931.7,141.6 1936.7,141.5 1941.6,141.4 1946.6,141.4 1951.6,141.3 1956.6,141.3 1961.6,141.2 1966.6,141.1 1971.7,141.1 1976.8,141.0 1981.8,140.9 1987.0,140.9 1992.1,140.8 1997.2,140.7 2002.4,140.6 2007.6,140.5 2012.8,140.4 2018.0,140.4 2023.2,140.3 2028.5,140.2 2033.7,140.1 M733.0,1420.3 736.1,1419.9 739.2,1419.5 742.4,1419.0 745.5,1418.6 748.6,1418.2 751.6,1417.8 754.7,1417.3 757.8,1416.9 760.8,1416.4 763.8,1416.0 766.8,1415.5 769.8,1415.0 772.8,1414.6 775.7,1414.1 778.7,1413.6 781.6,1413.1 784.5,1412.7 787.4,1412.2 790.3,1411.7 793.2,1411.2 796.0,1410.7 798.8,1410.2 801.7,1409.7 804.5,1409.1 807.3,1408.6 810.1,1408.1 812.8,1407.5 815.6,1407.0 818.3,1406.4 821.0,1405.9 823.7,1405.3 826.4,1404.8 829.1,1404.2 831.8,1403.6 834.4,1403.0 837.0,1402.4 839.7,1401.8 842.3,1401.2 844.8,1400.6 847.4,1399.9 850.0,1399.3 852.5,1398.6 855.1,1398.0 857.6,1397.3 860.1,1396.6 862.6,1395.9 865.0,1395.2 867.5,1394.5 869.9,1393.8 872.4,1393.1 874.8,1392.3 877.2,1391.6 879.6,1390.9 882.0,1390.1 884.3,1389.4 886.7,1388.7 889.0,1388.0 891.3,1387.3 893.6,1386.6 895.9,1385.8 898.2,1385.1 900.5,1384.3 902.7,1383.6 904.9,1382.8 907.2,1382.0 909.4,1381.1 911.6,1380.3 913.8,1379.4 915.9,1378.4 918.1,1377.5 920.2,1376.5 922.3,1375.5 924.4,1374.5 926.5,1373.4 928.6,1372.4 930.7,1371.3 932.8,1370.3 934.8,1369.2 936.8,1368.1 938.9,1367.0 940.9,1365.9 942.9,1364.8 944.8,1363.7 946.8,1362.5 948.7,1361.3 950.7,1360.2 952.6,1359.0 954.5,1357.8 956.4,1356.6 958.3,1355.3 960.2,1354.1 962.0,1352.9 963.9,1351.6 965.7,1350.3 967.5,1349.1 969.3,1347.8 971.1,1346.5 972.9,1345.2 974.6,1344.0 976.3,1342.7 977.9,1341.4 979.5,1340.2 981.1,1338.9 982.7,1337.6 984.3,1336.3 985.8,1335.0 987.4,1333.6 988.9,1332.3 990.4,1330.9 991.9,1329.5 993.4,1328.0 994.9,1326.5 996.4,1325.0 998.0,1323.4 999.5,1321.8 1001.0,1320.1 1002.5,1318.4 1004.0,1316.7 1005.6,1314.9 1007.1,1313.1 1008.7,1311.3 1010.2,1309.4 1011.8,1307.5 1013.3,1305.6 1014.8,1303.7 1016.4,1301.7 1017.9,1299.7 1019.4,1297.7 1020.9,1295.6 1022.4,1293.5 1023.8,1291.4 1025.3,1289.3 1026.7,1287.1 1028.2,1284.9 1029.6,1282.7 1030.9,1280.4 1032.3,1278.1 1033.6,1275.8 1034.9,1273.5 1036.2,1271.1 1037.5,1268.7 1038.7,1266.2 1039.9,1263.7 1041.1,1261.2 1042.3,1258.7 1043.5,1256.1 1044.7,1253.4 1045.9,1250.8 1047.0,1248.1 1048.2,1245.4 1049.3,1242.6 1050.4,1239.9 1051.6,1237.0 1052.7,1234.2 1053.7,1231.3 1054.8,1228.3 1055.9,1225.4 1056.9,1222.4 1058.0,1219.4 1059.0,1216.3 1060.0,1213.2 1061.1,1210.0 1062.1,1206.9 1063.0,1203.7 1064.0,1200.4 1065.0,1197.1 1065.9,1193.8 1066.9,1190.5 1067.8,1187.1 1068.7,1183.7 1069.6,1180.2 1070.5,1176.7 1071.4,1173.2 1072.3,1169.6 1073.1,1166.1 1074.0,1162.4 1074.8,1158.8 1075.6,1155.1 1076.4,1151.4 1077.2,1147.7 1077.9,1143.9 1078.7,1140.1 1079.5,1136.3 1080.2,1132.5 1080.9,1128.6 1081.7,1124.7 1082.4,1120.8 1083.1,1116.8 1083.8,1112.9 1084.5,1108.9 1085.1,1104.9 1085.8,1100.8 1086.5,1096.8 1087.1,1092.7 1087.8,1088.7 1088.4,1084.6 1089.1,1080.4 1089.7,1076.3 1090.3,1072.2 1090.8,1068.0 1091.4,1063.8 1092.0,1059.6 1092.5,1055.4 1093.1,1051.2 1093.6,1047.0 1094.1,1042.7 1094.6,1038.5 1095.1,1034.2 1095.6,1029.9 1096.1,1025.6 1096.6,1021.3 1097.1,1017.0 1097.6,1012.6 1098.0,1008.3 1098.5,1003.9 1098.9,999.5 1099.4,995.2 1099.8,990.8 1100.2,986.3 1100.6,981.9 1101.0,977.5 1101.4,973.0 1101.8,968.6 1102.1,964.1 1102.4,959.6 1102.8,955.1 1103.1,950.7 1103.4,946.2 1103.7,941.7 1104.0,937.2 1104.2,932.7 1104.5,928.3 1104.8,923.8 1105.0,919.4 1105.3,915.0 1105.5,910.6 1105.8,906.3 1106.1,902.0 1106.3,897.7 1106.6,893.5 1106.8,889.3 1107.1,885.2 1107.3,881.2 1107.6,877.2 1107.8,873.3 1108.0,869.4 1108.3,865.6 1108.5,861.9 1108.7,858.3 1108.9,854.8 1109.1,851.4 1109.3,848.1 1109.4,844.8 1109.6,841.7 1109.8,838.7 1109.9,835.7 1110.1,832.9 1110.2,830.2 1110.4,827.6 1110.5,825.0 1110.7,822.6 1110.9,820.3 1111.1,818.1 1111.3,816.0 1111.5,814.0 1111.6,812.2 1111.8,810.4 1112.0,808.7 1112.2,807.2 1112.3,805.7 1112.5,804.3 1112.6,803.0 1112.7,801.9 1112.9,800.8 1113.0,799.8 1113.1,798.9 1113.1,798.1 1113.2,797.3 1113.3,796.7 1113.4,796.1 1113.4,795.6 1113.5,795.2 1113.5,794.8 1113.5,794.5 1113.6,794.3 1113.6,794.1 1113.6,794.0 1113.6,793.9 1113.6,793.9 1113.6,793.8 1116.4,794.1 1116.4,794.1 1116.4,794.0 1116.4,793.9 1116.4,793.7 1116.5,793.5 1116.5,793.2 1116.5,792.8 1116.6,792.4 1116.6,791.9 1116.7,791.3 1116.8,790.7 1116.9,789.9 1116.9,789.1 1117.0,788.2 1117.1,787.2 1117.3,786.1 1117.4,785.0 1117.5,783.7 1117.7,782.3 1117.8,780.8 1118.0,779.3 1118.2,777.6 1118.4,775.8 1118.5,774.0 1118.7,772.0 1118.9,769.9 1119.1,767.7 1119.3,765.4 1119.5,763.0 1119.6,760.4 1119.8,757.8 1119.9,755.1 1120.1,752.3 1120.2,749.3 1120.4,746.3 1120.6,743.2 1120.7,739.9 1120.9,736.6 1121.1,733.2 1121.3,729.7 1121.5,726.1 1121.7,722.4 1122.0,718.6 1122.2,714.7 1122.4,710.8 1122.7,706.8 1122.9,702.8 1123.2,698.7 1123.4,694.5 1123.7,690.3 1123.9,686.0 1124.2,681.7 1124.5,677.4 1124.7,673.0 1125.0,668.6 1125.2,664.2 1125.5,659.7 1125.8,655.3 1126.0,650.8 1126.3,646.3 1126.6,641.8 1126.9,637.3 1127.2,632.9 1127.6,628.4 1127.9,623.9 1128.2,619.4 1128.6,615.0 1129.0,610.5 1129.4,606.1 1129.8,601.7 1130.2,597.2 1130.6,592.8 1131.1,588.5 1131.5,584.1 1132.0,579.7 1132.4,575.4 1132.9,571.0 1133.4,566.7 1133.9,562.4 1134.4,558.1 1134.9,553.8 1135.4,549.5 1135.9,545.3 1136.4,541.0 1136.9,536.8 1137.5,532.6 1138.0,528.4 1138.6,524.2 1139.2,520.0 1139.7,515.8 1140.3,511.7 1140.9,507.6 1141.6,503.4 1142.2,499.3 1142.9,495.3 1143.5,491.2 1144.2,487.2 1144.9,483.1 1145.5,479.1 1146.2,475.1 1146.9,471.2 1147.6,467.2 1148.3,463.3 1149.1,459.4 1149.8,455.5 1150.5,451.7 1151.3,447.9 1152.1,444.1 1152.8,440.3 1153.6,436.6 1154.4,432.9 1155.2,429.2 1156.0,425.6 1156.9,421.9 1157.7,418.4 1158.6,414.8 1159.5,411.3 1160.4,407.8 1161.3,404.3 1162.2,400.9 1163.1,397.5 1164.1,394.2 1165.0,390.9 1166.0,387.6 1167.0,384.3 1167.9,381.1 1168.9,378.0 1170.0,374.8 1171.0,371.7 1172.0,368.6 1173.1,365.6 1174.1,362.6 1175.2,359.7 1176.3,356.7 1177.3,353.8 1178.4,351.0 1179.6,348.1 1180.7,345.4 1181.8,342.6 1183.0,339.9 1184.1,337.2 1185.3,334.6 1186.5,331.9 1187.7,329.3 1188.9,326.8 1190.1,324.3 1191.3,321.8 1192.5,319.3 1193.8,316.9 1195.1,314.5 1196.4,312.2 1197.7,309.9 1199.1,307.6 1200.4,305.3 1201.8,303.1 1203.3,300.9 1204.7,298.7 1206.2,296.6 1207.6,294.5 1209.1,292.4 1210.6,290.3 1212.1,288.3 1213.6,286.3 1215.2,284.3 1216.7,282.4 1218.2,280.5 1219.8,278.6 1221.3,276.7 1222.9,274.9 1224.4,273.1 1226.0,271.3 1227.5,269.6 1229.0,267.9 1230.5,266.2 1232.0,264.6 1233.6,263.0 1235.1,261.5 1236.6,260.0 1238.1,258.5 1239.6,257.1 1241.1,255.7 1242.6,254.4 1244.2,253.0 1245.7,251.7 1247.3,250.4 1248.9,249.1 1250.5,247.8 1252.1,246.6 1253.7,245.3 1255.4,244.0 1257.1,242.8 1258.9,241.5 1260.7,240.2 1262.5,238.9 1264.3,237.7 1266.1,236.4 1268.0,235.1 1269.8,233.9 1271.7,232.7 1273.6,231.4 1275.5,230.2 1277.4,229.0 1279.3,227.8 1281.3,226.7 1283.2,225.5 1285.2,224.3 1287.1,223.2 1289.1,222.1 1291.1,221.0 1293.2,219.9 1295.2,218.8 1297.2,217.7 1299.3,216.7 1301.4,215.6 1303.5,214.6 1305.6,213.5 1307.7,212.5 1309.8,211.5 1311.9,210.5 1314.1,209.6 1316.2,208.6 1318.4,207.7 1320.6,206.9 1322.8,206.0 1325.1,205.2 1327.3,204.4 1329.5,203.7 1331.8,202.9 1334.1,202.2 1336.4,201.4 1338.7,200.7 1341.0,200.0 1343.3,199.3 1345.7,198.6 1348.0,197.9 1350.4,197.1 1352.8,196.4 1355.2,195.7 1357.6,194.9 1360.1,194.2 1362.5,193.5 1365.0,192.8 1367.4,192.1 1369.9,191.4 1372.4,190.7 1374.9,190.0 1377.5,189.4 1380.0,188.7 1382.6,188.1 1385.2,187.4 1387.7,186.8 1390.3,186.2 1393.0,185.6 1395.6,185.0 1398.2,184.4 1400.9,183.8 1403.6,183.2 1406.3,182.7 1409.0,182.1 1411.7,181.6 1414.4,181.0 1417.2,180.5 1419.9,179.9 1422.7,179.4 1425.5,178.9 1428.3,178.3 1431.2,177.8 1434.0,177.3 1436.8,176.8 1439.7,176.3 1442.6,175.8 1445.5,175.3 1448.4,174.9 1451.3,174.4 1454.3,173.9 1457.2,173.4 1460.2,173.0 1463.2,172.5 1466.2,172.0 1469.2,171.6 1472.2,171.1 1475.3,170.7 1478.4,170.2 1481.4,169.8 1484.5,169.4 1487.6,169.0 1490.8,168.5 1493.9,168.1 1497.0,167.7" stroke="#F14040" stroke-width="7.5"/>
<path d="M196.3,1420.3 201.6,1420.2 206.8,1420.1 212.0,1420.0 217.2,1420.0 222.4,1419.9 227.6,1419.8 232.8,1419.7 237.9,1419.6 243.0,1419.5 248.2,1419.4 253.2,1419.3 258.3,1419.2 263.4,1419.1 268.4,1419.0 273.4,1418.8 278.4,1418.7 283.4,1418.6 288.4,1418.5 293.3,1418.4 298.3,1418.3 303.2,1418.2 308.1,1418.1 313.0,1417.9 317.8,1417.8 322.7,1417.7 327.5,1417.6 332.3,1417.4 337.1,1417.3 341.9,1417.2 346.7,1417.0 351.4,1416.9 356.1,1416.8 360.8,1416.6 365.5,1416.5 370.2,1416.3 374.9,1416.2 379.5,1416.0 384.1,1415.9 388.7,1415.7 393.3,1415.6 397.9,1415.4 402.5,1415.3 407.0,1415.1 411.5,1415.0 416.0,1414.8 420.5,1414.6 425.0,1414.5 429.4,1414.3 433.9,1414.1 438.3,1413.9 442.7,1413.8 447.1,1413.6 451.5,1413.4 455.8,1413.2 460.2,1413.0 464.5,1412.8 468.8,1412.7 473.1,1412.5 477.3,1412.3 481.6,1412.0 485.8,1411.8 490.1,1411.6 494.3,1411.4 498.5,1411.2 502.6,1411.0 506.8,1410.7 510.9,1410.5 515.0,1410.3 519.2,1410.0 523.2,1409.8 527.3,1409.6 531.4,1409.3 535.4,1409.0 539.4,1408.8 543.4,1408.5 547.4,1408.2 551.4,1408.0 555.4,1407.7 559.3,1407.4 563.2,1407.1 567.1,1406.8 571.0,1406.5 574.9,1406.2 578.8,1405.9 582.6,1405.6 586.5,1405.3 590.3,1405.0 594.1,1404.6 597.8,1404.3 601.6,1404.0 605.4,1403.6 609.1,1403.3 612.8,1403.0 616.5,1402.6 620.2,1402.3 623.9,1401.9 627.5,1401.6 631.2,1401.2 634.8,1400.8 638.4,1400.5 642.0,1400.1 645.5,1399.7 649.1,1399.3 652.6,1399.0 656.2,1398.6 659.7,1398.2 663.2,1397.8 666.7,1397.4 670.1,1397.0 673.6,1396.6 677.0,1396.2 680.4,1395.8 683.8,1395.4 687.2,1394.9 690.6,1394.5 693.9,1394.1 697.3,1393.6 700.6,1393.2 703.9,1392.7 707.2,1392.3 710.5,1391.8 713.7,1391.4 717.0,1390.9 720.2,1390.4 723.4,1389.9 726.6,1389.4 729.8,1388.9 733.0,1388.4 736.1,1387.9 739.3,1387.3 742.4,1386.8 745.5,1386.3 748.6,1385.7 751.7,1385.2 754.7,1384.6 757.8,1384.0 760.8,1383.4 763.8,1382.8 766.8,1382.2 769.8,1381.6 772.8,1381.0 775.8,1380.4 778.7,1379.7 781.6,1379.1 784.6,1378.4 787.5,1377.8 790.3,1377.1 793.2,1376.4 796.1,1375.7 798.9,1375.0 801.7,1374.3 804.5,1373.5 807.3,1372.8 810.1,1372.0 812.9,1371.3 815.6,1370.5 818.4,1369.7 821.1,1369.0 823.8,1368.2 826.5,1367.4 829.2,1366.7 831.9,1365.9 834.5,1365.2 837.2,1364.4 839.8,1363.6 842.4,1362.7 845.1,1361.9 847.6,1361.0 850.2,1360.0 852.8,1359.0 855.3,1358.0 857.9,1356.9 860.4,1355.8 862.9,1354.6 865.4,1353.5 867.9,1352.3 870.3,1351.1 872.8,1349.8 875.2,1348.6 877.6,1347.3 880.0,1346.0 882.4,1344.7 884.8,1343.3 887.1,1342.0 889.5,1340.6 891.8,1339.2 894.1,1337.8 896.4,1336.4 898.7,1335.0 901.0,1333.5 903.3,1332.1 905.5,1330.6 907.7,1329.1 910.0,1327.7 912.2,1326.2 914.4,1324.7 916.5,1323.1 918.7,1321.6 920.8,1320.1 923.0,1318.5 925.1,1316.9 927.2,1315.3 929.3,1313.7 931.4,1312.0 933.4,1310.3 935.5,1308.7 937.5,1306.9 939.5,1305.2 941.5,1303.5 943.5,1301.7 945.5,1299.9 947.5,1298.1 949.4,1296.2 951.4,1294.4 953.3,1292.5 955.2,1290.6 957.1,1288.7 959.0,1286.7 960.9,1284.7 962.8,1282.7 964.6,1280.7 966.5,1278.7 968.3,1276.6 970.1,1274.5 971.9,1272.4 973.7,1270.2 975.5,1268.1 977.2,1265.9 979.0,1263.7 980.7,1261.5 982.5,1259.2 984.2,1257.0 985.9,1254.7 987.6,1252.4 989.3,1250.1 991.0,1247.7 992.7,1245.4 994.4,1243.0 996.1,1240.7 997.7,1238.3 999.4,1235.9 1001.0,1233.5 1002.7,1231.0 1004.3,1228.6 1005.9,1226.1 1007.4,1223.6 1009.0,1221.2 1010.6,1218.7 1012.1,1216.1 1013.6,1213.6 1015.2,1211.1 1016.7,1208.5 1018.1,1206.0 1019.6,1203.4 1021.0,1200.9 1022.5,1198.3 1023.9,1195.7 1025.3,1193.1 1026.7,1190.5 1028.0,1187.8 1029.4,1185.2 1030.7,1182.6 1032.0,1179.9 1033.3,1177.3 1034.5,1174.6 1035.8,1171.9 1037.0,1169.2 1038.2,1166.6 1039.4,1163.9 1040.6,1161.2 1041.8,1158.5 1042.9,1155.7 1044.1,1153.0 1045.2,1150.3 1046.3,1147.6 1047.4,1144.8 1048.5,1142.1 1049.6,1139.3 1050.6,1136.6 1051.7,1133.8 1052.8,1131.0 1053.8,1128.2 1054.8,1125.5 1055.8,1122.7 1056.9,1119.9 1057.9,1117.0 1058.9,1114.2 1059.8,1111.4 1060.8,1108.5 1061.8,1105.7 1062.8,1102.8 1063.7,1100.0 1064.7,1097.1 1065.6,1094.2 1066.6,1091.3 1067.5,1088.4 1068.4,1085.4 1069.3,1082.5 1070.2,1079.5 1071.1,1076.6 1072.0,1073.6 1072.9,1070.6 1073.8,1067.5 1074.6,1064.5 1075.5,1061.4 1076.3,1058.4 1077.1,1055.3 1078.0,1052.2 1078.8,1049.0 1079.6,1045.9 1080.3,1042.7 1081.1,1039.5 1081.9,1036.3 1082.7,1033.0 1083.4,1029.8 1084.1,1026.5 1084.9,1023.2 1085.6,1019.8 1086.3,1016.5 1087.0,1013.1 1087.7,1009.7 1088.4,1006.3 1089.1,1002.8 1089.7,999.3 1090.4,995.9 1091.0,992.3 1091.7,988.8 1092.3,985.3 1092.9,981.7 1093.5,978.1 1094.2,974.5 1094.8,970.9 1095.4,967.3 1096.0,963.7 1096.6,960.1 1097.2,956.4 1097.8,952.8 1098.4,949.1 1098.9,945.5 1099.5,941.8 1100.1,938.2 1100.6,934.6 1101.1,930.9 1101.7,927.3 1102.2,923.7 1102.7,920.1 1103.2,916.6 1103.6,913.0 1104.1,909.5 1104.6,906.0 1105.0,902.6 1105.4,899.1 1105.8,895.8 1106.2,892.4 1106.6,889.1 1107.0,885.8 1107.3,882.6 1107.7,879.4 1108.0,876.3 1108.4,873.2 1108.7,870.1 1109.0,867.1 1109.3,864.2 1109.6,861.3 1109.9,858.5 1110.2,855.8 1110.5,853.1 1110.8,850.4 1111.0,847.9 1111.3,845.3 1111.5,842.9 1111.8,840.5 1112.0,838.2 1112.3,835.9 1112.5,833.7 1112.7,831.6 1112.9,829.5 1113.1,827.5 1113.3,825.6 1113.5,823.7 1113.7,821.9 1113.8,820.1 1114.0,818.4 1114.2,816.8 1114.3,815.3 1114.5,813.8 1114.6,812.3 1114.8,811.0 1114.9,809.7 1115.0,808.4 1115.2,807.2 1115.3,806.1 1115.4,805.0 1115.5,804.0 1115.6,803.1 1115.7,802.2 1115.8,801.3 1115.8,800.5 1115.9,799.8 1116.0,799.1 1116.1,798.5 1116.1,797.9 1116.2,797.3 1116.2,796.9 1116.3,796.4 1116.3,796.0 1116.3,795.7 1116.4,795.4 1116.4,795.1 1116.4,794.9 1116.4,794.7 1116.5,794.5 1116.5,794.4 1116.5,794.3 1116.5,794.2 1116.5,794.2 1116.5,794.2 1116.5,794.2 1113.5,793.8 1113.5,793.8 1113.5,793.8 1113.5,793.7 1113.5,793.6 1113.5,793.5 1113.6,793.3 1113.6,793.1 1113.6,792.9 1113.6,792.6 1113.7,792.3 1113.7,792.0 1113.7,791.6 1113.8,791.1 1113.8,790.7 1113.9,790.1 1113.9,789.5 1114.0,788.9 1114.1,788.2 1114.2,787.5 1114.2,786.7 1114.3,785.8 1114.4,784.9 1114.5,784.0 1114.6,783.0 1114.7,781.9 1114.8,780.8 1115.0,779.6 1115.1,778.3 1115.2,777.0 1115.4,775.7 1115.5,774.2 1115.7,772.7 1115.8,771.2 1116.0,769.6 1116.2,767.9 1116.3,766.1 1116.5,764.3 1116.7,762.4 1116.9,760.5 1117.1,758.5 1117.3,756.4 1117.5,754.3 1117.7,752.1 1118.0,749.8 1118.2,747.5 1118.5,745.1 1118.7,742.7 1119.0,740.1 1119.2,737.6 1119.5,734.9 1119.8,732.2 1120.1,729.5 1120.4,726.7 1120.7,723.8 1121.0,720.9 1121.3,717.9 1121.6,714.8 1122.0,711.7 1122.3,708.6 1122.7,705.4 1123.0,702.2 1123.4,698.9 1123.8,695.6 1124.2,692.2 1124.6,688.9 1125.0,685.4 1125.4,682.0 1125.9,678.5 1126.4,675.0 1126.8,671.4 1127.3,667.9 1127.8,664.3 1128.3,660.7 1128.9,657.1 1129.4,653.4 1129.9,649.8 1130.5,646.2 1131.1,642.5 1131.6,638.9 1132.2,635.2 1132.8,631.6 1133.4,627.9 1134.0,624.3 1134.6,620.7 1135.2,617.1 1135.8,613.5 1136.5,609.9 1137.1,606.3 1137.7,602.7 1138.3,599.2 1139.0,595.7 1139.6,592.1 1140.3,588.7 1140.9,585.2 1141.6,581.7 1142.3,578.3 1143.0,574.9 1143.7,571.5 1144.4,568.2 1145.1,564.8 1145.9,561.5 1146.6,558.2 1147.3,555.0 1148.1,551.7 1148.9,548.5 1149.7,545.3 1150.4,542.1 1151.2,539.0 1152.0,535.8 1152.9,532.7 1153.7,529.6 1154.5,526.6 1155.4,523.5 1156.2,520.5 1157.1,517.4 1158.0,514.4 1158.9,511.4 1159.8,508.5 1160.7,505.5 1161.6,502.6 1162.5,499.6 1163.4,496.7 1164.4,493.8 1165.3,490.9 1166.3,488.0 1167.2,485.2 1168.2,482.3 1169.2,479.5 1170.2,476.6 1171.1,473.8 1172.1,471.0 1173.1,468.1 1174.2,465.3 1175.2,462.5 1176.2,459.8 1177.2,457.0 1178.3,454.2 1179.4,451.4 1180.4,448.7 1181.5,445.9 1182.6,443.2 1183.7,440.4 1184.8,437.7 1185.9,435.0 1187.1,432.3 1188.2,429.5 1189.4,426.8 1190.6,424.1 1191.8,421.4 1193.0,418.8 1194.2,416.1 1195.5,413.4 1196.7,410.7 1198.0,408.1 1199.3,405.4 1200.6,402.8 1202.0,400.2 1203.3,397.5 1204.7,394.9 1206.1,392.3 1207.5,389.7 1209.0,387.1 1210.4,384.6 1211.9,382.0 1213.3,379.5 1214.8,376.9 1216.4,374.4 1217.9,371.9 1219.4,369.3 1221.0,366.8 1222.6,364.4 1224.1,361.9 1225.7,359.4 1227.3,357.0 1229.0,354.5 1230.6,352.1 1232.3,349.7 1233.9,347.3 1235.6,345.0 1237.3,342.6 1239.0,340.3 1240.7,337.9 1242.4,335.6 1244.1,333.3 1245.8,331.0 1247.5,328.8 1249.3,326.5 1251.0,324.3 1252.8,322.1 1254.5,319.9 1256.3,317.8 1258.1,315.6 1259.9,313.5 1261.7,311.4 1263.5,309.3 1265.4,307.3 1267.2,305.3 1269.1,303.3 1271.0,301.3 1272.9,299.3 1274.8,297.4 1276.7,295.5 1278.6,293.6 1280.6,291.8 1282.5,289.9 1284.5,288.1 1286.5,286.3 1288.5,284.5 1290.5,282.8 1292.5,281.1 1294.5,279.3 1296.6,277.7 1298.6,276.0 1300.7,274.3 1302.8,272.7 1304.9,271.1 1307.0,269.5 1309.2,267.9 1311.3,266.4 1313.5,264.9 1315.6,263.3 1317.8,261.8 1320.0,260.3 1322.3,258.9 1324.5,257.4 1326.7,255.9 1329.0,254.5 1331.3,253.0 1333.6,251.6 1335.9,250.2 1338.2,248.8 1340.5,247.4 1342.9,246.0 1345.2,244.7 1347.6,243.3 1350.0,242.0 1352.4,240.7 1354.8,239.4 1357.2,238.2 1359.7,236.9 1362.1,235.7 1364.6,234.5 1367.1,233.4 1369.6,232.2 1372.1,231.1 1374.7,230.0 1377.2,229.0 1379.8,228.0 1382.4,227.0 1384.9,226.1 1387.6,225.3 1390.2,224.4 1392.8,223.6 1395.5,222.8 1398.1,222.1 1400.8,221.3 1403.5,220.6 1406.2,219.8 1408.9,219.0 1411.6,218.3 1414.4,217.5 1417.1,216.7 1419.9,216.0 1422.7,215.2 1425.5,214.5 1428.3,213.7 1431.1,213.0 1433.9,212.3 1436.8,211.6 1439.7,210.9 1442.5,210.2 1445.4,209.6 1448.4,208.9 1451.3,208.3 1454.2,207.6 1457.2,207.0 1460.2,206.4 1463.2,205.8 1466.2,205.2 1469.2,204.6 1472.2,204.0 1475.3,203.4 1478.3,202.8 1481.4,202.3 1484.5,201.7 1487.6,201.2 1490.7,200.7 1493.9,200.1 1497.0,199.6 1500.2,199.1 1503.4,198.6 1506.6,198.1 1509.8,197.6 1513.0,197.1 1516.3,196.6 1519.5,196.2 1522.8,195.7 1526.1,195.3 1529.4,194.8 1532.7,194.4 1536.1,193.9 1539.4,193.5 1542.8,193.1 1546.2,192.6 1549.6,192.2 1553.0,191.8 1556.4,191.4 1559.9,191.0 1563.3,190.6 1566.8,190.2 1570.3,189.8 1573.8,189.4 1577.4,189.0 1580.9,188.7 1584.5,188.3 1588.0,187.9 1591.6,187.5 1595.2,187.2 1598.8,186.8 1602.5,186.4 1606.1,186.1 1609.8,185.7 1613.5,185.4 1617.2,185.0 1620.9,184.7 1624.6,184.4 1628.4,184.0 1632.2,183.7 1635.9,183.4 1639.7,183.0 1643.5,182.7 1647.4,182.4 1651.2,182.1 1655.1,181.8 1659.0,181.5 1662.9,181.2 1666.8,180.9 1670.7,180.6 1674.6,180.3 1678.6,180.0 1682.6,179.8 1686.6,179.5 1690.6,179.2 1694.6,179.0 1698.6,178.7 1702.7,178.4 1706.8,178.2 1710.8,178.0 1715.0,177.7 1719.1,177.5 1723.2,177.3 1727.4,177.0 1731.5,176.8 1735.7,176.6 1739.9,176.4 1744.2,176.2 1748.4,176.0 1752.7,175.7 1756.9,175.5 1761.2,175.3 1765.5,175.2 1769.8,175.0 1774.2,174.8 1778.5,174.6 1782.9,174.4 1787.3,174.2 1791.7,174.1 1796.1,173.9 1800.6,173.7 1805.0,173.5 1809.5,173.4 1814.0,173.2 1818.5,173.0 1823.0,172.9 1827.5,172.7 1832.1,172.6 1836.7,172.4 1841.3,172.3 1845.9,172.1 1850.5,172.0 1855.1,171.8 1859.8,171.7 1864.5,171.5 1869.2,171.4 1873.9,171.2 1878.6,171.1 1883.3,171.0 1888.1,170.8 1892.9,170.7 1897.7,170.6 1902.5,170.4 1907.3,170.3 1912.2,170.2 1917.0,170.1 1921.9,169.9 1926.8,169.8 1931.7,169.7 1936.7,169.6 1941.6,169.5 1946.6,169.4 1951.6,169.3 1956.6,169.2 1961.6,169.0 1966.6,168.9 1971.7,168.8 1976.8,168.7 1981.8,168.6 1987.0,168.5 1992.1,168.4 1997.2,168.3 2002.4,168.2 2007.6,168.1 2012.8,168.0 2018.0,168.0 2023.2,167.9 2028.4,167.8 2033.7,167.7 M949.4,1296.2 951.4,1294.4 953.3,1292.5 955.2,1290.6 957.1,1288.6 959.0,1286.7 960.8,1284.7 962.7,1282.7 964.5,1280.6 966.4,1278.6 968.2,1276.5 970.0,1274.4 971.8,1272.3 973.6,1270.1 975.3,1268.0 977.1,1265.8 978.8,1263.6 980.6,1261.3 982.3,1259.1 984.0,1256.8 985.7,1254.5 987.4,1252.2 989.1,1249.9 990.8,1247.6 992.5,1245.2 994.1,1242.8 995.8,1240.5 997.4,1238.1 999.1,1235.7 1000.7,1233.2 1002.3,1230.8 1003.9,1228.3 1005.5,1225.9 1007.0,1223.4 1008.6,1220.9 1010.1,1218.4 1011.7,1215.9 1013.2,1213.3 1014.7,1210.8 1016.1,1208.3 1017.6,1205.7 1019.0,1203.1 1020.5,1200.5 1021.9,1198.0 1023.3,1195.4 1024.7,1192.8 1026.0,1190.1 1027.4,1187.5 1028.7,1184.9 1030.0,1182.2 1031.3,1179.6 1032.6,1176.9 1033.8,1174.3 1035.1,1171.6 1036.3,1168.9 1037.5,1166.2 1038.7,1163.5 1039.9,1160.8 1041.0,1158.1 1042.2,1155.4 1043.3,1152.7 1044.4,1150.0 1045.5,1147.3 1046.6,1144.5 1047.7,1141.8 1048.8,1139.0 1049.8,1136.3 1050.9,1133.5 1051.9,1130.7 1053.0,1127.9 1054.0,1125.1 1055.0,1122.3 1056.0,1119.5 1057.0,1116.7 1058.0,1113.9 1059.0,1111.1 1059.9,1108.2 1060.9,1105.4 1061.9,1102.5 1062.8,1099.7 1063.8,1096.8 1064.7,1093.9 1065.6,1091.0 1066.5,1088.1 1067.5,1085.1 1068.4,1082.2 1069.3,1079.2 1070.1,1076.3 1071.0,1073.3 1071.9,1070.3 1072.7,1067.3 1073.6,1064.2 1074.4,1061.2 1075.2,1058.1 1076.0,1055.0 1076.9,1051.9 1077.6,1048.7 1078.4,1045.6 1079.2,1042.4 1080.0,1039.2 1080.7,1036.0 1081.5,1032.7 1082.2,1029.5 1082.9,1026.2 1083.6,1022.9 1084.3,1019.6 1085.0,1016.2 1085.7,1012.8 1086.4,1009.4 1087.0,1006.0 1087.7,1002.5 1088.3,999.1 1089.0,995.6 1089.6,992.1 1090.2,988.6 1090.8,985.0 1091.4,981.4 1092.0,977.9 1092.6,974.3 1093.1,970.7 1093.7,967.0 1094.2,963.4 1094.8,959.8 1095.3,956.1 1095.8,952.5 1096.3,948.8 1096.8,945.2 1097.3,941.5 1097.7,937.9 1098.2,934.2 1098.7,930.6 1099.1,927.0 1099.5,923.4 1100.0,919.8 1100.4,916.2 1100.8,912.7 1101.2,909.2 1101.6,905.7 1102.0,902.2 1102.4,898.8 1102.8,895.4 1103.2,892.0 1103.5,888.7 1103.9,885.5 1104.3,882.2 1104.6,879.1 1105.0,875.9 1105.3,872.8 1105.6,869.8 1105.9,866.8 1106.2,863.9 1106.6,861.0 1106.9,858.2 1107.1,855.4 1107.4,852.7 1107.7,850.1 1108.0,847.5 1108.2,845.0 1108.5,842.6 1108.7,840.2 1109.0,837.9 1109.2,835.6 1109.4,833.4 1109.6,831.3 1109.8,829.2 1110.0,827.2 1110.2,825.2 1110.4,823.4 1110.6,821.6 1110.8,819.8 1111.0,818.1 1111.1,816.5 1111.3,814.9 1111.4,813.5 1111.6,812.0 1111.7,810.7 1111.9,809.3 1112.0,808.1 1112.1,806.9 1112.3,805.8 1112.4,804.7 1112.5,803.7 1112.6,802.7 1112.7,801.8 1112.8,801.0 1112.8,800.2 1112.9,799.5 1113.0,798.8 1113.1,798.2 1113.1,797.6 1113.2,797.0 1113.2,796.5 1113.3,796.1 1113.3,795.7 1113.3,795.4 1113.4,795.1 1113.4,794.8 1113.4,794.6 1113.5,794.4 1113.5,794.2 1113.5,794.1 1113.5,794.0 1113.5,793.9 1113.5,793.9 1113.5,793.9 1113.5,793.8 1116.5,794.1 1116.5,794.1 1116.5,794.1 1116.5,794.0 1116.5,793.9 1116.5,793.8 1116.5,793.6 1116.6,793.4 1116.6,793.2 1116.6,792.9 1116.7,792.6 1116.7,792.3 1116.7,791.9 1116.8,791.5 1116.8,791.0 1116.9,790.4 1116.9,789.8 1117.0,789.2 1117.1,788.5 1117.2,787.8 1117.2,787.0 1117.3,786.2 1117.4,785.3 1117.5,784.3 1117.6,783.3 1117.7,782.2 1117.9,781.1 1118.0,779.9 1118.1,778.7 1118.3,777.3 1118.4,776.0 1118.6,774.5 1118.7,773.1 1118.9,771.5 1119.0,769.9 1119.2,768.2 1119.4,766.4 1119.6,764.6 1119.8,762.8 1120.0,760.8 1120.2,758.8 1120.4,756.7 1120.6,754.6 1120.8,752.4 1121.0,750.1 1121.3,747.8 1121.5,745.4 1121.8,743.0 1122.0,740.5 1122.3,737.9 1122.6,735.3 1122.9,732.6 1123.1,729.8 1123.4,727.0 1123.8,724.1 1124.1,721.2 1124.4,718.2 1124.7,715.2 1125.0,712.1 1125.4,708.9 1125.7,705.8 1126.1,702.5 1126.5,699.3 1126.8,696.0 1127.2,692.6 1127.6,689.2 1128.0,685.8 1128.4,682.3 1128.8,678.8 1129.2,675.3 1129.7,671.8 1130.1,668.2 1130.5,664.6 1131.0,661.0 1131.4,657.4 1131.9,653.8 1132.4,650.2 1132.9,646.5 1133.4,642.9 1133.9,639.2 1134.4,635.6 1134.9,631.9 1135.5,628.3 1136.0,624.6 1136.6,621.0 1137.1,617.4 1137.7,613.8 1138.3,610.2 1138.9,606.6 1139.5,603.0 1140.1,599.5 1140.7,596.0 1141.3,592.5 1142.0,589.0 1142.6,585.5 1143.3,582.1 1144.0,578.7 1144.6,575.3 1145.3,571.9 1146.0,568.5 1146.7,565.2 1147.4,561.9 1148.2,558.6 1148.9,555.3 1149.7,552.1 1150.4,548.9 1151.2,545.7 1152.0,542.5 1152.7,539.4 1153.5,536.2 1154.4,533.1 1155.2,530.0 1156.0,527.0 1156.8,523.9 1157.7,520.9 1158.5,517.9 1159.4,514.9 1160.3,511.9 1161.2,508.9 1162.1,505.9 1163.0,503.0 1163.9,500.1 1164.9,497.2 1165.8,494.3 1166.8,491.4 1167.7,488.5 1168.7,485.7 1169.7,482.8 1170.7,480.0 1171.7,477.1 1172.7,474.3 1173.7,471.5 1174.7,468.7 1175.7,465.9 1176.8,463.1 1177.8,460.4 1178.9,457.6 1180.0,454.8 1181.0,452.1 1182.1,449.4 1183.2,446.6 1184.4,443.9 1185.5,441.2 1186.6,438.5 1187.8,435.7 1188.9,433.0 1190.1,430.3 1191.3,427.7 1192.5,425.0 1193.7,422.3 1194.9,419.6 1196.2,417.0 1197.4,414.3 1198.7,411.7 1200.0,409.0 1201.3,406.4 1202.6,403.8 1203.9,401.2 1205.3,398.6 1206.7,396.0 1208.0,393.4 1209.5,390.8 1210.9,388.2 1212.3,385.6 1213.8,383.1 1215.2,380.5 1216.7,378.0 1218.2,375.5 1219.7,373.0 1221.3,370.5 1222.8,368.0 1224.4,365.5 1225.9,363.0 1227.5,360.6 1229.1,358.1 1230.7,355.7 1232.3,353.3 1234.0,350.9 1235.6,348.5 1237.3,346.2 1238.9,343.8 1240.6,341.5 1242.3,339.1 1244.0,336.8 1245.7,334.5 1247.4,332.3 1249.1,330.0 1250.9,327.8 1252.6,325.6 1254.3,323.4 1256.1,321.2 1257.8,319.0 1259.6,316.9 1261.4,314.8 1263.2,312.7 1265.0,310.7 1266.8,308.6 1268.7,306.6 1270.5,304.6 1272.4,302.7 1274.3,300.7 1276.2,298.8 1278.1,296.9 1280.0,295.0 1281.9,293.2 1283.8,291.3 1285.8,289.5 1287.8,287.8 1289.7,286.0 1291.7,284.3 1293.7,282.5 1295.8,280.8 1297.8,279.2 1299.8,277.5 1301.9,275.9 1304.0,274.2 1306.1,272.6 1308.2,271.1 1310.3,269.5 1312.4,267.9 1314.6,266.4 1316.7,264.9 1318.9,263.4 1321.1,261.9 1323.3,260.4 1325.5,258.9 1327.7,257.5 1330.0,256.0 1332.2,254.6 1334.5,253.1 1336.8,251.7 1339.1,250.3 1341.4,248.9 1343.7,247.5 1346.1,246.1 1348.4,244.7 1350.8,243.4 1353.1,242.1 1355.5,240.8 1357.9,239.5 1360.4,238.2 1362.8,237.0 1365.2,235.8 1367.7,234.6 1370.2,233.4 1372.7,232.3 1375.2,231.2 1377.7,230.1 1380.2,229.1 1382.8,228.1 1385.3,227.2 1387.9,226.2 1390.5,225.4 1393.1,224.5 1395.7,223.7 1398.3,222.8 1401.0,222.0 1403.7,221.2 1406.3,220.4 1409.0,219.6 1411.8,218.8 1414.5,217.9 1417.2,217.1 1420.0,216.4 1422.8,215.6 1425.6,214.8 1428.4,214.1 1431.2,213.4 1434.0,212.6 1436.9,211.9 1439.7,211.2 1442.6,210.5 1445.5,209.9 1448.4,209.2 1451.4,208.5 1454.3,207.9 1457.3,207.3 1460.2,206.6 1463.2,206.0 1466.2,205.4 1469.2,204.8 1472.3,204.2 1475.3,203.7 1478.4,203.1 1481.4,202.5 1484.5,202.0 1487.7,201.4 1490.8,200.9 1493.9,200.4 1497.1,199.9 1500.2,199.4 1503.4,198.8 1506.6,198.4 1509.8,197.9 1513.1,197.4 1516.3,196.9 1519.6,196.4 1522.8,196.0 1526.1,195.5 1529.4,195.0 1532.8,194.6 1536.1,194.2 1539.5,193.7 1542.8,193.3 1546.2,192.9 1549.6,192.5 1553.0,192.0 1556.5,191.6 1559.9,191.2 1563.4,190.8 1566.9,190.4 1570.3,190.0 1573.9,189.6 1577.4,189.3 1580.9,188.9 1584.5,188.5 1588.1,188.1 1591.6,187.8 1595.2,187.4 1598.9,187.0 1602.5,186.7 1606.2,186.3 1609.8,185.9 1613.5,185.6 1617.2,185.2 1620.9,184.9 1624.7,184.6 1628.4,184.2 1632.2,183.9 1636.0,183.6 1639.7,183.2 1643.6,182.9 1647.4,182.6 1651.2,182.3 1655.1,182.0 1659.0,181.7 1662.9,181.4 1666.8,181.1 1670.7,180.8 1674.6,180.5 1678.6,180.2 1682.6,179.9 1686.6,179.6 1690.6,179.4 1694.6,179.1 1698.6,178.9 1702.7,178.6 1706.8,178.3 1710.9,178.1 1715.0,177.9 1719.1,177.6 1723.2,177.4 1727.4,177.2 1731.6,176.9 1735.7,176.7 1739.9,176.5 1744.2,176.3 1748.4,176.1 1752.7,175.9 1756.9,175.7 1761.2,175.5 1765.5,175.3 1769.8,175.1 1774.2,174.9 1778.5,174.7 1782.9,174.5 1787.3,174.3 1791.7,174.2 1796.1,174.0 1800.6,173.8 1805.0,173.6 1809.5,173.5 1814.0,173.3 1818.5,173.1 1823.0,173.0 1827.5,172.8 1832.1,172.7 1836.7,172.5 1841.3,172.4 1845.9,172.2 1850.5,172.0 1855.1,171.9 1859.8,171.7 1864.5,171.6 1869.2,171.5 1873.9,171.3 1878.6,171.2 1883.3,171.0 1888.1,170.9 1892.9,170.8 1897.7,170.6 1902.5,170.5 1907.3,170.4 1912.2,170.3 1917.0,170.1 1921.9,170.0 1926.8,169.9 1931.7,169.8 1936.7,169.7 1941.6,169.5 1946.6,169.4 1951.6,169.3 1956.6,169.2 1961.6,169.1 1966.6,169.0 1971.7,168.9 1976.8,168.8 1981.8,168.7 1987.0,168.6 1992.1,168.5 1997.2,168.4 2002.4,168.3 2007.6,168.2 2012.8,168.1 2018.0,168.0 2023.2,167.9 2028.5,167.8 2033.7,167.7" stroke="#1A6FDF" stroke-width="7.5"/>
</g>
<path d="M194,52H2036V58H194ZM194,1529H2036V1536H194ZM194,52H200V1536H194ZM2030,52H2036V1536H2030ZM200,144H212V151H200ZM200,237H226V243H200ZM200,329H212V336H200ZM200,421H226V428H200ZM200,514H212V520H200ZM200,606H226V613H200ZM200,698H212V705H200ZM200,791H226V797H200ZM200,883H212V890H200ZM200,975H226V982H200ZM200,1068H212V1074H200ZM200,1160H226V1167H200ZM200,1252H212V1259H200ZM200,1345H226V1351H200ZM200,1437H212V1444H200ZM309,1518H315V1529H309ZM424,1503H430V1529H424ZM538,1518H545V1529H538ZM653,1503H660V1529H653ZM768,1518H774V1529H768ZM882,1503H889V1529H882ZM997,1518H1004V1529H997ZM1112,1503H1118V1529H1112ZM1227,1518H1233V1529H1227ZM1342,1503H1348V1529H1342ZM1456,1518H1463V1529H1456ZM1571,1503H1578V1529H1571ZM1686,1518H1692V1529H1686ZM1800,1503H1807V1529H1800ZM1915,1518H1922V1529H1915Z" fill="#000" shape-rendering="crispEdges"/>
<g stroke="#707070" stroke-width="2" stroke-dasharray="2.9 1.2" fill="none" shape-rendering="crispEdges">
<path d="M226,794.0H2030 M1115.0,58V1503"/>
</g>
<g font-size="64" stroke="#fff" stroke-width="0.9">
<text x="190.6" y="72.7" text-anchor="end">200</text>
<text x="190.6" y="257.3" text-anchor="end">150</text>
<text x="190.6" y="442.0" text-anchor="end">100</text>
<text x="190.6" y="626.7" text-anchor="end">50</text>
<text x="190.6" y="811.4" text-anchor="end">0</text>
<text x="190.6" y="996.1" text-anchor="end">−50</text>
<text x="190.6" y="1180.8" text-anchor="end">−100</text>
<text x="190.6" y="1365.5" text-anchor="end">−150</text>
<text x="190.6" y="1550.2" text-anchor="end">−200</text>
<text x="197.0" y="1596" text-anchor="middle">−20000</text>
<text x="426.5" y="1596" text-anchor="middle">−15000</text>
<text x="656.0" y="1596" text-anchor="middle">−10000</text>
<text x="885.5" y="1596" text-anchor="middle">−5000</text>
<text x="1115.0" y="1596" text-anchor="middle">0</text>
<text x="1344.5" y="1596" text-anchor="middle">5000</text>
<text x="1574.0" y="1596" text-anchor="middle">10000</text>
<text x="1803.5" y="1596" text-anchor="middle">15000</text>
<text x="2033.0" y="1596" text-anchor="middle">20000</text>
</g>
<text x="1115.0" y="1668" font-size="76.5" text-anchor="middle">H (Oe)</text>
<text transform="translate(75.4,795.3) rotate(-90)" font-size="76.5" text-anchor="middle">M (emu/g)</text>
<g shape-rendering="crispEdges">
<rect x="320" y="172" width="368" height="295" fill="#000"/>
<rect x="299" y="151" width="367" height="294" fill="#fff" stroke="#0000FF" stroke-width="2"/>
<path d="M309,202H464" stroke="#515151" stroke-width="6" fill="none"/>
<path d="M309,296.5H464" stroke="#F14040" stroke-width="6" fill="none"/>
<path d="M309,391H464" stroke="#1A6FDF" stroke-width="6" fill="none"/>
</g>
<g font-size="68">
<text x="464" y="229.5">590 °C</text>
<text x="464" y="324">610 °C</text>
<text x="464" y="418.5">630 °C</text>
</g>
<g fill="none" shape-rendering="crispEdges">
<path d="M1267.5,1122.3H1886.0 M1576.3,873.8V1370.8" stroke="#808080" stroke-width="1"/>
<path d="M1355.3,873.8V1327 M1354.4,1327V1370.8 M1799.1,873.8V957.5 M1798.2,957.5V1370.8" stroke="#515151" stroke-width="2"/>
<path d="M1392.1,873.8V1205.5 M1391.1,1205.5V1370.8 M1762.3,873.8V892.5 M1761.3,892.5V1310.2 M1760.3,1310.2V1370.8" stroke="#F14040" stroke-width="2"/>
<path d="M1338.9,873.8V978.3 M1338.0,978.3V1269.6 M1337.0,1269.6V1370.8 M1581.9,873.8V944.3 M1581.0,944.3V1127.4 M1580.0,1127.4V1311 M1579.0,1311V1370.8 M1824.3,873.8V1001 M1823.4,1001V1289.4 M1822.4,1289.4V1370.8" stroke="#1A6FDF" stroke-width="2"/>
<rect x="1267.5" y="873.8" width="618.5" height="497.0" stroke="#000" stroke-width="2"/>
<path d="M1267.5,904.86h5.5 M1267.5,935.92h10.5 M1267.5,966.99h5.5 M1267.5,998.05h10.5 M1267.5,1029.11h5.5 M1267.5,1060.17h10.5 M1267.5,1091.24h5.5 M1267.5,1122.30h10.5 M1267.5,1153.36h5.5 M1267.5,1184.42h10.5 M1267.5,1215.49h5.5 M1267.5,1246.55h10.5 M1267.5,1277.61h5.5 M1267.5,1308.67h10.5 M1267.5,1339.74h5.5 M1329.35,1370.8v-10.5 M1391.20,1370.8v-5.5 M1453.05,1370.8v-10.5 M1514.90,1370.8v-5.5 M1576.75,1370.8v-10.5 M1638.60,1370.8v-5.5 M1700.45,1370.8v-10.5 M1762.30,1370.8v-5.5 M1824.15,1370.8v-10.5" stroke="#000" stroke-width="2"/>
<rect x="1433" y="927" width="124" height="100" fill="#000" stroke="none"/>
<rect x="1426.5" y="920.5" width="123" height="99" fill="#fff" stroke="#0000FF" stroke-width="1"/>
<path d="M1429.5,937.7H1482" stroke="#515151" stroke-width="2"/>
<path d="M1429.5,968.9H1482" stroke="#F14040" stroke-width="2"/>
<path d="M1429.5,1000.9H1482" stroke="#1A6FDF" stroke-width="2"/>
</g>
<g font-size="23">
<text x="1482" y="946.6">590 °C</text>
<text x="1482" y="978.7">610 °C</text>
<text x="1482" y="1010.8">630 °C</text>
</g>
<g font-size="20.5">
<text x="1265" y="879.8" text-anchor="end">0.020</text>
<text x="1265" y="941.9" text-anchor="end">0.015</text>
<text x="1265" y="1004.0" text-anchor="end">0.010</text>
<text x="1265" y="1066.2" text-anchor="end">0.005</text>
<text x="1265" y="1128.3" text-anchor="end">0.000</text>
<text x="1265" y="1190.4" text-anchor="end">−0.005</text>
<text x="1265" y="1252.5" text-anchor="end">−0.010</text>
<text x="1265" y="1314.7" text-anchor="end">−0.015</text>
<text x="1265" y="1376.8" text-anchor="end">−0.020</text>
<text x="1329.3" y="1391" text-anchor="middle">−40</text>
<text x="1453.0" y="1391" text-anchor="middle">−20</text>
<text x="1576.8" y="1391" text-anchor="middle">0</text>
<text x="1700.5" y="1391" text-anchor="middle">20</text>
<text x="1824.2" y="1391" text-anchor="middle">40</text>
</g>
<text x="1576.8" y="1417.3" font-size="26" text-anchor="middle">H (Oe)</text>
<text transform="translate(1207,1122.3) rotate(-90)" font-size="26" text-anchor="middle">M (emu/g)</text>
</svg>
</body></html>
